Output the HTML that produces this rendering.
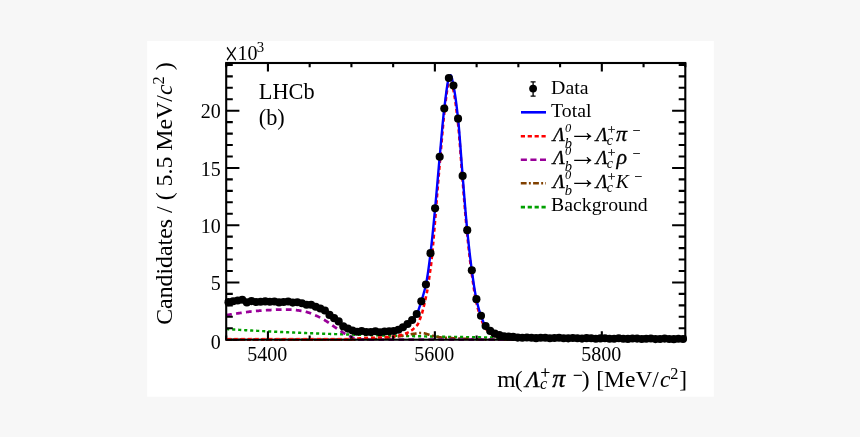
<!DOCTYPE html>
<html><head><meta charset="utf-8"><title>LHCb fit</title>
<style>html,body{margin:0;padding:0;background:#f7f7f7;}svg{display:block}</style></head>
<body>
<svg width="860" height="437" viewBox="0 0 860 437">
<rect x="0" y="0" width="860" height="437" fill="#f7f7f7"/>
<rect x="147.2" y="41" width="566.6" height="355.7" fill="#ffffff"/>
<g fill="none" stroke-linejoin="round">
<path d="M226.20,329.05 L226.70,329.08 L227.20,329.11 L227.70,329.15 L228.20,329.18 L228.70,329.21 L229.20,329.24 L229.70,329.27 L230.20,329.30 L230.70,329.33 L231.20,329.36 L231.70,329.39 L232.20,329.42 L232.70,329.45 L233.20,329.48 L233.70,329.51 L234.20,329.54 L234.70,329.57 L235.20,329.60 L235.70,329.63 L236.20,329.66 L236.70,329.69 L237.20,329.72 L237.70,329.75 L238.20,329.78 L238.70,329.81 L239.20,329.84 L239.70,329.87 L240.20,329.90 L240.70,329.93 L241.20,329.95 L241.70,329.98 L242.20,330.01 L242.70,330.04 L243.20,330.07 L243.70,330.10 L244.20,330.13 L244.70,330.15 L245.20,330.18 L245.70,330.21 L246.20,330.24 L246.70,330.27 L247.20,330.29 L247.70,330.32 L248.20,330.35 L248.70,330.38 L249.20,330.40 L249.70,330.43 L250.20,330.46 L250.70,330.49 L251.20,330.51 L251.70,330.54 L252.20,330.57 L252.70,330.59 L253.20,330.62 L253.70,330.65 L254.20,330.67 L254.70,330.70 L255.20,330.73 L255.70,330.75 L256.20,330.78 L256.70,330.81 L257.20,330.83 L257.70,330.86 L258.20,330.89 L258.70,330.91 L259.20,330.94 L259.70,330.96 L260.20,330.99 L260.70,331.01 L261.20,331.04 L261.70,331.07 L262.20,331.09 L262.70,331.12 L263.20,331.14 L263.70,331.17 L264.20,331.19 L264.70,331.22 L265.20,331.24 L265.70,331.27 L266.20,331.29 L266.70,331.32 L267.20,331.34 L267.70,331.37 L268.20,331.39 L268.70,331.42 L269.20,331.44 L269.70,331.46 L270.20,331.49 L270.70,331.51 L271.20,331.54 L271.70,331.56 L272.20,331.58 L272.70,331.61 L273.20,331.63 L273.70,331.66 L274.20,331.68 L274.70,331.70 L275.20,331.73 L275.70,331.75 L276.20,331.77 L276.70,331.80 L277.20,331.82 L277.70,331.84 L278.20,331.87 L278.70,331.89 L279.20,331.91 L279.70,331.94 L280.20,331.96 L280.70,331.98 L281.20,332.00 L281.70,332.03 L282.20,332.05 L282.70,332.07 L283.20,332.10 L283.70,332.12 L284.20,332.14 L284.70,332.16 L285.20,332.18 L285.70,332.21 L286.20,332.23 L286.70,332.25 L287.20,332.27 L287.70,332.29 L288.20,332.32 L288.70,332.34 L289.20,332.36 L289.70,332.38 L290.20,332.40 L290.70,332.42 L291.20,332.45 L291.70,332.47 L292.20,332.49 L292.70,332.51 L293.20,332.53 L293.70,332.55 L294.20,332.57 L294.70,332.59 L295.20,332.62 L295.70,332.64 L296.20,332.66 L296.70,332.68 L297.20,332.70 L297.70,332.72 L298.20,332.74 L298.70,332.76 L299.20,332.78 L299.70,332.80 L300.20,332.82 L300.70,332.84 L301.20,332.86 L301.70,332.88 L302.20,332.90 L302.70,332.92 L303.20,332.94 L303.70,332.96 L304.20,332.98 L304.70,333.00 L305.20,333.02 L305.70,333.04 L306.20,333.06 L306.70,333.08 L307.20,333.10 L307.70,333.12 L308.20,333.14 L308.70,333.16 L309.20,333.18 L309.70,333.20 L310.20,333.22 L310.70,333.24 L311.20,333.25 L311.70,333.27 L312.20,333.29 L312.70,333.31 L313.20,333.33 L313.70,333.35 L314.20,333.37 L314.70,333.39 L315.20,333.40 L315.70,333.42 L316.20,333.44 L316.70,333.46 L317.20,333.48 L317.70,333.50 L318.20,333.52 L318.70,333.53 L319.20,333.55 L319.70,333.57 L320.20,333.59 L320.70,333.61 L321.20,333.62 L321.70,333.64 L322.20,333.66 L322.70,333.68 L323.20,333.70 L323.70,333.71 L324.20,333.73 L324.70,333.75 L325.20,333.77 L325.70,333.78 L326.20,333.80 L326.70,333.82 L327.20,333.84 L327.70,333.85 L328.20,333.87 L328.70,333.89 L329.20,333.90 L329.70,333.92 L330.20,333.94 L330.70,333.96 L331.20,333.97 L331.70,333.99 L332.20,334.01 L332.70,334.02 L333.20,334.04 L333.70,334.06 L334.20,334.07 L334.70,334.09 L335.20,334.11 L335.70,334.12 L336.20,334.14 L336.70,334.16 L337.20,334.17 L337.70,334.19 L338.20,334.20 L338.70,334.22 L339.20,334.24 L339.70,334.25 L340.20,334.27 L340.70,334.29 L341.20,334.30 L341.70,334.32 L342.20,334.33 L342.70,334.35 L343.20,334.36 L343.70,334.38 L344.20,334.40 L344.70,334.41 L345.20,334.43 L345.70,334.44 L346.20,334.46 L346.70,334.47 L347.20,334.49 L347.70,334.50 L348.20,334.52 L348.70,334.53 L349.20,334.55 L349.70,334.57 L350.20,334.58 L350.70,334.60 L351.20,334.61 L351.70,334.63 L352.20,334.64 L352.70,334.66 L353.20,334.67 L353.70,334.69 L354.20,334.70 L354.70,334.71 L355.20,334.73 L355.70,334.74 L356.20,334.76 L356.70,334.77 L357.20,334.79 L357.70,334.80 L358.20,334.82 L358.70,334.83 L359.20,334.85 L359.70,334.86 L360.20,334.87 L360.70,334.89 L361.20,334.90 L361.70,334.92 L362.20,334.93 L362.70,334.94 L363.20,334.96 L363.70,334.97 L364.20,334.99 L364.70,335.00 L365.20,335.01 L365.70,335.03 L366.20,335.04 L366.70,335.06 L367.20,335.07 L367.70,335.08 L368.20,335.10 L368.70,335.11 L369.20,335.12 L369.70,335.14 L370.20,335.15 L370.70,335.16 L371.20,335.18 L371.70,335.19 L372.20,335.20 L372.70,335.22 L373.20,335.23 L373.70,335.24 L374.20,335.26 L374.70,335.27 L375.20,335.28 L375.70,335.30 L376.20,335.31 L376.70,335.32 L377.20,335.34 L377.70,335.35 L378.20,335.36 L378.70,335.37 L379.20,335.39 L379.70,335.40 L380.20,335.41 L380.70,335.42 L381.20,335.44 L381.70,335.45 L382.20,335.46 L382.70,335.47 L383.20,335.49 L383.70,335.50 L384.20,335.51 L384.70,335.52 L385.20,335.54 L385.70,335.55 L386.20,335.56 L386.70,335.57 L387.20,335.59 L387.70,335.60 L388.20,335.61 L388.70,335.62 L389.20,335.63 L389.70,335.65 L390.20,335.66 L390.70,335.67 L391.20,335.68 L391.70,335.69 L392.20,335.71 L392.70,335.72 L393.20,335.73 L393.70,335.74 L394.20,335.75 L394.70,335.76 L395.20,335.78 L395.70,335.79 L396.20,335.80 L396.70,335.81 L397.20,335.82 L397.70,335.83 L398.20,335.84 L398.70,335.86 L399.20,335.87 L399.70,335.88 L400.20,335.89 L400.70,335.90 L401.20,335.91 L401.70,335.92 L402.20,335.93 L402.70,335.95 L403.20,335.96 L403.70,335.97 L404.20,335.98 L404.70,335.99 L405.20,336.00 L405.70,336.01 L406.20,336.02 L406.70,336.03 L407.20,336.04 L407.70,336.05 L408.20,336.07 L408.70,336.08 L409.20,336.09 L409.70,336.10 L410.20,336.11 L410.70,336.12 L411.20,336.13 L411.70,336.14 L412.20,336.15 L412.70,336.16 L413.20,336.17 L413.70,336.18 L414.20,336.19 L414.70,336.20 L415.20,336.21 L415.70,336.22 L416.20,336.23 L416.70,336.24 L417.20,336.25 L417.70,336.26 L418.20,336.27 L418.70,336.28 L419.20,336.29 L419.70,336.30 L420.20,336.31 L420.70,336.32 L421.20,336.33 L421.70,336.34 L422.20,336.35 L422.70,336.36 L423.20,336.37 L423.70,336.38 L424.20,336.39 L424.70,336.40 L425.20,336.41 L425.70,336.42 L426.20,336.43 L426.70,336.44 L427.20,336.45 L427.70,336.46 L428.20,336.47 L428.70,336.48 L429.20,336.49 L429.70,336.50 L430.20,336.51 L430.70,336.52 L431.20,336.53 L431.70,336.54 L432.20,336.55 L432.70,336.56 L433.20,336.56 L433.70,336.57 L434.20,336.58 L434.70,336.59 L435.20,336.60 L435.70,336.61 L436.20,336.62 L436.70,336.63 L437.20,336.64 L437.70,336.65 L438.20,336.66 L438.70,336.66 L439.20,336.67 L439.70,336.68 L440.20,336.69 L440.70,336.70 L441.20,336.71 L441.70,336.72 L442.20,336.73 L442.70,336.74 L443.20,336.74 L443.70,336.75 L444.20,336.76 L444.70,336.77 L445.20,336.78 L445.70,336.79 L446.20,336.80 L446.70,336.80 L447.20,336.81 L447.70,336.82 L448.20,336.83 L448.70,336.84 L449.20,336.85 L449.70,336.86 L450.20,336.86 L450.70,336.87 L451.20,336.88 L451.70,336.89 L452.20,336.90 L452.70,336.91 L453.20,336.91 L453.70,336.92 L454.20,336.93 L454.70,336.94 L455.20,336.95 L455.70,336.95 L456.20,336.96 L456.70,336.97 L457.20,336.98 L457.70,336.99 L458.20,336.99 L458.70,337.00 L459.20,337.01 L459.70,337.02 L460.20,337.03 L460.70,337.03 L461.20,337.04 L461.70,337.05 L462.20,337.06 L462.70,337.07 L463.20,337.07 L463.70,337.08 L464.20,337.09 L464.70,337.10 L465.20,337.10 L465.70,337.11 L466.20,337.12 L466.70,337.13 L467.20,337.13 L467.70,337.14 L468.20,337.15 L468.70,337.16 L469.20,337.16 L469.70,337.17 L470.20,337.18 L470.70,337.19 L471.20,337.19 L471.70,337.20 L472.20,337.21 L472.70,337.22 L473.20,337.22 L473.70,337.23 L474.20,337.24 L474.70,337.25 L475.20,337.25 L475.70,337.26 L476.20,337.27 L476.70,337.27 L477.20,337.28 L477.70,337.29 L478.20,337.30 L478.70,337.30 L479.20,337.31 L479.70,337.32 L480.20,337.32 L480.70,337.33 L481.20,337.34 L481.70,337.35 L482.20,337.35 L482.70,337.36 L483.20,337.37 L483.70,337.37 L484.20,337.38 L484.70,337.39 L485.20,337.39 L485.70,337.40 L486.20,337.41 L486.70,337.41 L487.20,337.42 L487.70,337.43 L488.20,337.43 L488.70,337.44 L489.20,337.45 L489.70,337.45 L490.20,337.46 L490.70,337.47 L491.20,337.47 L491.70,337.48 L492.20,337.49 L492.70,337.49 L493.20,337.50 L493.70,337.51 L494.20,337.51 L494.70,337.52 L495.20,337.53 L495.70,337.53 L496.20,337.54 L496.70,337.54 L497.20,337.55 L497.70,337.56 L498.20,337.56 L498.70,337.57 L499.20,337.58 L499.70,337.58 L500.20,337.59 L500.70,337.60 L501.20,337.60 L501.70,337.61 L502.20,337.61 L502.70,337.62 L503.20,337.63 L503.70,337.63 L504.20,337.64 L504.70,337.64 L505.20,337.65 L505.70,337.66 L506.20,337.66 L506.70,337.67 L507.20,337.67 L507.70,337.68 L508.20,337.69 L508.70,337.69 L509.20,337.70 L509.70,337.70 L510.20,337.71 L510.70,337.72 L511.20,337.72 L511.70,337.73 L512.20,337.73 L512.70,337.74 L513.20,337.75 L513.70,337.75 L514.20,337.76 L514.70,337.76 L515.20,337.77 L515.70,337.77 L516.20,337.78 L516.70,337.79 L517.20,337.79 L517.70,337.80 L518.20,337.80 L518.70,337.81 L519.20,337.81 L519.70,337.82 L520.20,337.82 L520.70,337.83 L521.20,337.84 L521.70,337.84 L522.20,337.85 L522.70,337.85 L523.20,337.86 L523.70,337.86 L524.20,337.87 L524.70,337.87 L525.20,337.88 L525.70,337.88 L526.20,337.89 L526.70,337.89 L527.20,337.90 L527.70,337.91 L528.20,337.91 L528.70,337.92 L529.20,337.92 L529.70,337.93 L530.20,337.93 L530.70,337.94 L531.20,337.94 L531.70,337.95 L532.20,337.95 L532.70,337.96 L533.20,337.96 L533.70,337.97 L534.20,337.97 L534.70,337.98 L535.20,337.98 L535.70,337.99 L536.20,337.99 L536.70,338.00 L537.20,338.00 L537.70,338.01 L538.20,338.01 L538.70,338.02 L539.20,338.02 L539.70,338.03 L540.20,338.03 L540.70,338.04 L541.20,338.04 L541.70,338.05 L542.20,338.05 L542.70,338.06 L543.20,338.06 L543.70,338.07 L544.20,338.07 L544.70,338.08 L545.20,338.08 L545.70,338.09 L546.20,338.09 L546.70,338.10 L547.20,338.10 L547.70,338.11 L548.20,338.11 L548.70,338.11 L549.20,338.12 L549.70,338.12 L550.20,338.13 L550.70,338.13 L551.20,338.14 L551.70,338.14 L552.20,338.15 L552.70,338.15 L553.20,338.16 L553.70,338.16 L554.20,338.17 L554.70,338.17 L555.20,338.17 L555.70,338.18 L556.20,338.18 L556.70,338.19 L557.20,338.19 L557.70,338.20 L558.20,338.20 L558.70,338.21 L559.20,338.21 L559.70,338.21 L560.20,338.22 L560.70,338.22 L561.20,338.23 L561.70,338.23 L562.20,338.24 L562.70,338.24 L563.20,338.24 L563.70,338.25 L564.20,338.25 L564.70,338.26 L565.20,338.26 L565.70,338.27 L566.20,338.27 L566.70,338.27 L567.20,338.28 L567.70,338.28 L568.20,338.29 L568.70,338.29 L569.20,338.30 L569.70,338.30 L570.20,338.30 L570.70,338.31 L571.20,338.31 L571.70,338.32 L572.20,338.32 L572.70,338.32 L573.20,338.33 L573.70,338.33 L574.20,338.34 L574.70,338.34 L575.20,338.34 L575.70,338.35 L576.20,338.35 L576.70,338.36 L577.20,338.36 L577.70,338.36 L578.20,338.37 L578.70,338.37 L579.20,338.38 L579.70,338.38 L580.20,338.38 L580.70,338.39 L581.20,338.39 L581.70,338.40 L582.20,338.40 L582.70,338.40 L583.20,338.41 L583.70,338.41 L584.20,338.41 L584.70,338.42 L585.20,338.42 L585.70,338.43 L586.20,338.43 L586.70,338.43 L587.20,338.44 L587.70,338.44 L588.20,338.44 L588.70,338.45 L589.20,338.45 L589.70,338.46 L590.20,338.46 L590.70,338.46 L591.20,338.47 L591.70,338.47 L592.20,338.47 L592.70,338.48 L593.20,338.48 L593.70,338.48 L594.20,338.49 L594.70,338.49 L595.20,338.50 L595.70,338.50 L596.20,338.50 L596.70,338.51 L597.20,338.51 L597.70,338.51 L598.20,338.52 L598.70,338.52 L599.20,338.52 L599.70,338.53 L600.20,338.53 L600.70,338.53 L601.20,338.54 L601.70,338.54 L602.20,338.54 L602.70,338.55 L603.20,338.55 L603.70,338.55 L604.20,338.56 L604.70,338.56 L605.20,338.56 L605.70,338.57 L606.20,338.57 L606.70,338.57 L607.20,338.58 L607.70,338.58 L608.20,338.58 L608.70,338.59 L609.20,338.59 L609.70,338.59 L610.20,338.60 L610.70,338.60 L611.20,338.60 L611.70,338.61 L612.20,338.61 L612.70,338.61 L613.20,338.62 L613.70,338.62 L614.20,338.62 L614.70,338.63 L615.20,338.63 L615.70,338.63 L616.20,338.64 L616.70,338.64 L617.20,338.64 L617.70,338.65 L618.20,338.65 L618.70,338.65 L619.20,338.65 L619.70,338.66 L620.20,338.66 L620.70,338.66 L621.20,338.67 L621.70,338.67 L622.20,338.67 L622.70,338.68 L623.20,338.68 L623.70,338.68 L624.20,338.69 L624.70,338.69 L625.20,338.69 L625.70,338.69 L626.20,338.70 L626.70,338.70 L627.20,338.70 L627.70,338.71 L628.20,338.71 L628.70,338.71 L629.20,338.71 L629.70,338.72 L630.20,338.72 L630.70,338.72 L631.20,338.73 L631.70,338.73 L632.20,338.73 L632.70,338.73 L633.20,338.74 L633.70,338.74 L634.20,338.74 L634.70,338.75 L635.20,338.75 L635.70,338.75 L636.20,338.75 L636.70,338.76 L637.20,338.76 L637.70,338.76 L638.20,338.77 L638.70,338.77 L639.20,338.77 L639.70,338.77 L640.20,338.78 L640.70,338.78 L641.20,338.78 L641.70,338.78 L642.20,338.79 L642.70,338.79 L643.20,338.79 L643.70,338.80 L644.20,338.80 L644.70,338.80 L645.20,338.80 L645.70,338.81 L646.20,338.81 L646.70,338.81 L647.20,338.81 L647.70,338.82 L648.20,338.82 L648.70,338.82 L649.20,338.82 L649.70,338.83 L650.20,338.83 L650.70,338.83 L651.20,338.83 L651.70,338.84 L652.20,338.84 L652.70,338.84 L653.20,338.84 L653.70,338.85 L654.20,338.85 L654.70,338.85 L655.20,338.85 L655.70,338.86 L656.20,338.86 L656.70,338.86 L657.20,338.86 L657.70,338.87 L658.20,338.87 L658.70,338.87 L659.20,338.87 L659.70,338.88 L660.20,338.88 L660.70,338.88 L661.20,338.88 L661.70,338.89 L662.20,338.89 L662.70,338.89 L663.20,338.89 L663.70,338.90 L664.20,338.90 L664.70,338.90 L665.20,338.90 L665.70,338.91 L666.20,338.91 L666.70,338.91 L667.20,338.91 L667.70,338.92 L668.20,338.92 L668.70,338.92 L669.20,338.92 L669.70,338.92 L670.20,338.93 L670.70,338.93 L671.20,338.93 L671.70,338.93 L672.20,338.94 L672.70,338.94 L673.20,338.94 L673.70,338.94 L674.20,338.94 L674.70,338.95 L675.20,338.95 L675.70,338.95 L676.20,338.95 L676.70,338.96 L677.20,338.96 L677.70,338.96 L678.20,338.96 L678.70,338.96 L679.20,338.97 L679.70,338.97 L680.20,338.97 L680.70,338.97 L681.20,338.98 L681.70,338.98 L682.20,338.98 L682.70,338.98 L683.20,338.98 L683.70,338.99 L684.20,338.99 L684.70,338.99 L685.20,338.99" stroke="#00a000" stroke-width="2.4" stroke-dasharray="3.1 2.9"/>
<path d="M226.20,339.70 L226.70,339.70 L227.20,339.70 L227.70,339.70 L228.20,339.70 L228.70,339.70 L229.20,339.70 L229.70,339.70 L230.20,339.70 L230.70,339.70 L231.20,339.70 L231.70,339.70 L232.20,339.70 L232.70,339.70 L233.20,339.70 L233.70,339.70 L234.20,339.70 L234.70,339.70 L235.20,339.70 L235.70,339.70 L236.20,339.70 L236.70,339.70 L237.20,339.70 L237.70,339.70 L238.20,339.70 L238.70,339.70 L239.20,339.70 L239.70,339.70 L240.20,339.70 L240.70,339.70 L241.20,339.70 L241.70,339.70 L242.20,339.70 L242.70,339.70 L243.20,339.70 L243.70,339.70 L244.20,339.70 L244.70,339.70 L245.20,339.70 L245.70,339.70 L246.20,339.70 L246.70,339.70 L247.20,339.70 L247.70,339.70 L248.20,339.70 L248.70,339.70 L249.20,339.70 L249.70,339.70 L250.20,339.70 L250.70,339.70 L251.20,339.70 L251.70,339.70 L252.20,339.70 L252.70,339.70 L253.20,339.70 L253.70,339.70 L254.20,339.70 L254.70,339.70 L255.20,339.70 L255.70,339.70 L256.20,339.70 L256.70,339.70 L257.20,339.70 L257.70,339.70 L258.20,339.70 L258.70,339.70 L259.20,339.70 L259.70,339.70 L260.20,339.70 L260.70,339.70 L261.20,339.70 L261.70,339.70 L262.20,339.70 L262.70,339.70 L263.20,339.70 L263.70,339.70 L264.20,339.70 L264.70,339.70 L265.20,339.70 L265.70,339.70 L266.20,339.70 L266.70,339.70 L267.20,339.70 L267.70,339.70 L268.20,339.70 L268.70,339.70 L269.20,339.70 L269.70,339.70 L270.20,339.70 L270.70,339.70 L271.20,339.70 L271.70,339.70 L272.20,339.70 L272.70,339.70 L273.20,339.70 L273.70,339.70 L274.20,339.70 L274.70,339.70 L275.20,339.70 L275.70,339.70 L276.20,339.70 L276.70,339.70 L277.20,339.70 L277.70,339.70 L278.20,339.70 L278.70,339.70 L279.20,339.70 L279.70,339.70 L280.20,339.70 L280.70,339.70 L281.20,339.70 L281.70,339.70 L282.20,339.70 L282.70,339.70 L283.20,339.70 L283.70,339.70 L284.20,339.70 L284.70,339.70 L285.20,339.70 L285.70,339.70 L286.20,339.70 L286.70,339.70 L287.20,339.70 L287.70,339.70 L288.20,339.70 L288.70,339.70 L289.20,339.70 L289.70,339.70 L290.20,339.70 L290.70,339.70 L291.20,339.70 L291.70,339.70 L292.20,339.70 L292.70,339.70 L293.20,339.70 L293.70,339.70 L294.20,339.70 L294.70,339.70 L295.20,339.70 L295.70,339.70 L296.20,339.70 L296.70,339.70 L297.20,339.70 L297.70,339.70 L298.20,339.70 L298.70,339.70 L299.20,339.70 L299.70,339.70 L300.20,339.70 L300.70,339.70 L301.20,339.70 L301.70,339.70 L302.20,339.70 L302.70,339.70 L303.20,339.70 L303.70,339.70 L304.20,339.70 L304.70,339.70 L305.20,339.70 L305.70,339.70 L306.20,339.70 L306.70,339.70 L307.20,339.70 L307.70,339.70 L308.20,339.70 L308.70,339.70 L309.20,339.70 L309.70,339.70 L310.20,339.70 L310.70,339.70 L311.20,339.70 L311.70,339.70 L312.20,339.70 L312.70,339.70 L313.20,339.70 L313.70,339.70 L314.20,339.70 L314.70,339.70 L315.20,339.70 L315.70,339.70 L316.20,339.70 L316.70,339.70 L317.20,339.70 L317.70,339.70 L318.20,339.70 L318.70,339.70 L319.20,339.70 L319.70,339.70 L320.20,339.70 L320.70,339.70 L321.20,339.70 L321.70,339.70 L322.20,339.70 L322.70,339.70 L323.20,339.70 L323.70,339.70 L324.20,339.70 L324.70,339.70 L325.20,339.70 L325.70,339.70 L326.20,339.70 L326.70,339.70 L327.20,339.70 L327.70,339.70 L328.20,339.70 L328.70,339.70 L329.20,339.70 L329.70,339.70 L330.20,339.70 L330.70,339.70 L331.20,339.70 L331.70,339.70 L332.20,339.70 L332.70,339.70 L333.20,339.70 L333.70,339.70 L334.20,339.70 L334.70,339.70 L335.20,339.70 L335.70,339.70 L336.20,339.70 L336.70,339.70 L337.20,339.70 L337.70,339.70 L338.20,339.70 L338.70,339.70 L339.20,339.70 L339.70,339.70 L340.20,339.70 L340.70,339.70 L341.20,339.70 L341.70,339.70 L342.20,339.70 L342.70,339.70 L343.20,339.70 L343.70,339.70 L344.20,339.70 L344.70,339.70 L345.20,339.70 L345.70,339.70 L346.20,339.70 L346.70,339.70 L347.20,339.70 L347.70,339.70 L348.20,339.70 L348.70,339.70 L349.20,339.70 L349.70,339.70 L350.20,339.70 L350.70,339.70 L351.20,339.70 L351.70,339.70 L352.20,339.70 L352.70,339.70 L353.20,339.70 L353.70,339.70 L354.20,339.70 L354.70,339.70 L355.20,339.70 L355.70,339.70 L356.20,339.70 L356.70,339.70 L357.20,339.70 L357.70,339.70 L358.20,339.70 L358.70,339.70 L359.20,339.70 L359.70,339.70 L360.20,339.70 L360.70,339.70 L361.20,339.69 L361.70,339.69 L362.20,339.68 L362.70,339.66 L363.20,339.65 L363.70,339.63 L364.20,339.62 L364.70,339.60 L365.20,339.58 L365.70,339.55 L366.20,339.53 L366.70,339.50 L367.20,339.48 L367.70,339.45 L368.20,339.42 L368.70,339.39 L369.20,339.36 L369.70,339.33 L370.20,339.30 L370.70,339.27 L371.20,339.24 L371.70,339.21 L372.20,339.18 L372.70,339.15 L373.20,339.12 L373.70,339.09 L374.20,339.06 L374.70,339.03 L375.20,339.00 L375.70,338.97 L376.20,338.95 L376.70,338.92 L377.20,338.89 L377.70,338.86 L378.20,338.83 L378.70,338.80 L379.20,338.77 L379.70,338.74 L380.20,338.70 L380.70,338.67 L381.20,338.63 L381.70,338.60 L382.20,338.56 L382.70,338.52 L383.20,338.48 L383.70,338.44 L384.20,338.40 L384.70,338.35 L385.20,338.31 L385.70,338.26 L386.20,338.20 L386.70,338.14 L387.20,338.08 L387.70,338.01 L388.20,337.95 L388.70,337.87 L389.20,337.80 L389.70,337.73 L390.20,337.65 L390.70,337.57 L391.20,337.50 L391.70,337.42 L392.20,337.34 L392.70,337.27 L393.20,337.20 L393.70,337.12 L394.20,337.05 L394.70,336.97 L395.20,336.90 L395.70,336.82 L396.20,336.75 L396.70,336.67 L397.20,336.59 L397.70,336.52 L398.20,336.44 L398.70,336.36 L399.20,336.28 L399.70,336.20 L400.20,336.12 L400.70,336.04 L401.20,335.95 L401.70,335.87 L402.20,335.78 L402.70,335.70 L403.20,335.61 L403.70,335.52 L404.20,335.43 L404.70,335.35 L405.20,335.26 L405.70,335.17 L406.20,335.08 L406.70,335.00 L407.20,334.91 L407.70,334.83 L408.20,334.74 L408.70,334.66 L409.20,334.57 L409.70,334.49 L410.20,334.40 L410.70,334.32 L411.20,334.23 L411.70,334.15 L412.20,334.06 L412.70,333.98 L413.20,333.90 L413.70,333.82 L414.20,333.75 L414.70,333.67 L415.20,333.60 L415.70,333.52 L416.20,333.44 L416.70,333.36 L417.20,333.28 L417.70,333.20 L418.20,333.13 L418.70,333.07 L419.20,333.03 L419.70,333.01 L420.20,333.00 L420.70,333.01 L421.20,333.03 L421.70,333.07 L422.20,333.10 L422.70,333.15 L423.20,333.20 L423.70,333.25 L424.20,333.31 L424.70,333.40 L425.20,333.53 L425.70,333.67 L426.20,333.83 L426.70,334.00 L427.20,334.17 L427.70,334.34 L428.20,334.50 L428.70,334.66 L429.20,334.83 L429.70,335.00 L430.20,335.16 L430.70,335.32 L431.20,335.46 L431.70,335.60 L432.20,335.73 L432.70,335.86 L433.20,335.99 L433.70,336.11 L434.20,336.23 L434.70,336.34 L435.20,336.45 L435.70,336.55 L436.20,336.65 L436.70,336.74 L437.20,336.84 L437.70,336.93 L438.20,337.02 L438.70,337.10 L439.20,337.18 L439.70,337.25 L440.20,337.32 L440.70,337.38 L441.20,337.43 L441.70,337.48 L442.20,337.52 L442.70,337.57 L443.20,337.61 L443.70,337.65 L444.20,337.68 L444.70,337.72 L445.20,337.75 L445.70,337.78 L446.20,337.82 L446.70,337.85 L447.20,337.88 L447.70,337.91 L448.20,337.93 L448.70,337.96 L449.20,337.99 L449.70,338.02 L450.20,338.05 L450.70,338.08 L451.20,338.11 L451.70,338.14 L452.20,338.17 L452.70,338.20 L453.20,338.23 L453.70,338.26 L454.20,338.29 L454.70,338.31 L455.20,338.34 L455.70,338.37 L456.20,338.40 L456.70,338.43 L457.20,338.45 L457.70,338.48 L458.20,338.51 L458.70,338.54 L459.20,338.56 L459.70,338.59 L460.20,338.61 L460.70,338.64 L461.20,338.67 L461.70,338.69 L462.20,338.72 L462.70,338.74 L463.20,338.77 L463.70,338.79 L464.20,338.81 L464.70,338.84 L465.20,338.86 L465.70,338.88 L466.20,338.91 L466.70,338.93 L467.20,338.95 L467.70,338.98 L468.20,339.00 L468.70,339.02 L469.20,339.05 L469.70,339.07 L470.20,339.09 L470.70,339.11 L471.20,339.14 L471.70,339.16 L472.20,339.18 L472.70,339.20 L473.20,339.22 L473.70,339.24 L474.20,339.27 L474.70,339.29 L475.20,339.31 L475.70,339.32 L476.20,339.34 L476.70,339.36 L477.20,339.38 L477.70,339.40 L478.20,339.41 L478.70,339.43 L479.20,339.45 L479.70,339.46 L480.20,339.48 L480.70,339.49 L481.20,339.51 L481.70,339.52 L482.20,339.54 L482.70,339.55 L483.20,339.57 L483.70,339.58 L484.20,339.60 L484.70,339.61 L485.20,339.63 L485.70,339.64 L486.20,339.65 L486.70,339.66 L487.20,339.67 L487.70,339.68 L488.20,339.69 L488.70,339.69 L489.20,339.70 L489.70,339.70 L490.20,339.70 L490.70,339.70 L491.20,339.70 L491.70,339.70 L492.20,339.70 L492.70,339.70 L493.20,339.70 L493.70,339.70 L494.20,339.70 L494.70,339.70 L495.20,339.70 L495.70,339.70 L496.20,339.70 L496.70,339.70 L497.20,339.70 L497.70,339.70 L498.20,339.70 L498.70,339.70 L499.20,339.70 L499.70,339.70 L500.20,339.70 L500.70,339.70 L501.20,339.70 L501.70,339.70 L502.20,339.70 L502.70,339.70 L503.20,339.70 L503.70,339.70 L504.20,339.70 L504.70,339.70 L505.20,339.70 L505.70,339.70 L506.20,339.70 L506.70,339.70 L507.20,339.70 L507.70,339.70 L508.20,339.70 L508.70,339.70 L509.20,339.70 L509.70,339.70 L510.20,339.70 L510.70,339.70 L511.20,339.70 L511.70,339.70 L512.20,339.70 L512.70,339.70 L513.20,339.70 L513.70,339.70 L514.20,339.70 L514.70,339.70 L515.20,339.70 L515.70,339.70 L516.20,339.70 L516.70,339.70 L517.20,339.70 L517.70,339.70 L518.20,339.70 L518.70,339.70 L519.20,339.70 L519.70,339.70 L520.20,339.70 L520.70,339.70 L521.20,339.70 L521.70,339.70 L522.20,339.70 L522.70,339.70 L523.20,339.70 L523.70,339.70 L524.20,339.70 L524.70,339.70 L525.20,339.70 L525.70,339.70 L526.20,339.70 L526.70,339.70 L527.20,339.70 L527.70,339.70 L528.20,339.70 L528.70,339.70 L529.20,339.70 L529.70,339.70 L530.20,339.70 L530.70,339.70 L531.20,339.70 L531.70,339.70 L532.20,339.70 L532.70,339.70 L533.20,339.70 L533.70,339.70 L534.20,339.70 L534.70,339.70 L535.20,339.70 L535.70,339.70 L536.20,339.70 L536.70,339.70 L537.20,339.70 L537.70,339.70 L538.20,339.70 L538.70,339.70 L539.20,339.70 L539.70,339.70 L540.20,339.70 L540.70,339.70 L541.20,339.70 L541.70,339.70 L542.20,339.70 L542.70,339.70 L543.20,339.70 L543.70,339.70 L544.20,339.70 L544.70,339.70 L545.20,339.70 L545.70,339.70 L546.20,339.70 L546.70,339.70 L547.20,339.70 L547.70,339.70 L548.20,339.70 L548.70,339.70 L549.20,339.70 L549.70,339.70 L550.20,339.70 L550.70,339.70 L551.20,339.70 L551.70,339.70 L552.20,339.70 L552.70,339.70 L553.20,339.70 L553.70,339.70 L554.20,339.70 L554.70,339.70 L555.20,339.70 L555.70,339.70 L556.20,339.70 L556.70,339.70 L557.20,339.70 L557.70,339.70 L558.20,339.70 L558.70,339.70 L559.20,339.70 L559.70,339.70 L560.20,339.70 L560.70,339.70 L561.20,339.70 L561.70,339.70 L562.20,339.70 L562.70,339.70 L563.20,339.70 L563.70,339.70 L564.20,339.70 L564.70,339.70 L565.20,339.70 L565.70,339.70 L566.20,339.70 L566.70,339.70 L567.20,339.70 L567.70,339.70 L568.20,339.70 L568.70,339.70 L569.20,339.70 L569.70,339.70 L570.20,339.70 L570.70,339.70 L571.20,339.70 L571.70,339.70 L572.20,339.70 L572.70,339.70 L573.20,339.70 L573.70,339.70 L574.20,339.70 L574.70,339.70 L575.20,339.70 L575.70,339.70 L576.20,339.70 L576.70,339.70 L577.20,339.70 L577.70,339.70 L578.20,339.70 L578.70,339.70 L579.20,339.70 L579.70,339.70 L580.20,339.70 L580.70,339.70 L581.20,339.70 L581.70,339.70 L582.20,339.70 L582.70,339.70 L583.20,339.70 L583.70,339.70 L584.20,339.70 L584.70,339.70 L585.20,339.70 L585.70,339.70 L586.20,339.70 L586.70,339.70 L587.20,339.70 L587.70,339.70 L588.20,339.70 L588.70,339.70 L589.20,339.70 L589.70,339.70 L590.20,339.70 L590.70,339.70 L591.20,339.70 L591.70,339.70 L592.20,339.70 L592.70,339.70 L593.20,339.70 L593.70,339.70 L594.20,339.70 L594.70,339.70 L595.20,339.70 L595.70,339.70 L596.20,339.70 L596.70,339.70 L597.20,339.70 L597.70,339.70 L598.20,339.70 L598.70,339.70 L599.20,339.70 L599.70,339.70 L600.20,339.70 L600.70,339.70 L601.20,339.70 L601.70,339.70 L602.20,339.70 L602.70,339.70 L603.20,339.70 L603.70,339.70 L604.20,339.70 L604.70,339.70 L605.20,339.70 L605.70,339.70 L606.20,339.70 L606.70,339.70 L607.20,339.70 L607.70,339.70 L608.20,339.70 L608.70,339.70 L609.20,339.70 L609.70,339.70 L610.20,339.70 L610.70,339.70 L611.20,339.70 L611.70,339.70 L612.20,339.70 L612.70,339.70 L613.20,339.70 L613.70,339.70 L614.20,339.70 L614.70,339.70 L615.20,339.70 L615.70,339.70 L616.20,339.70 L616.70,339.70 L617.20,339.70 L617.70,339.70 L618.20,339.70 L618.70,339.70 L619.20,339.70 L619.70,339.70 L620.20,339.70 L620.70,339.70 L621.20,339.70 L621.70,339.70 L622.20,339.70 L622.70,339.70 L623.20,339.70 L623.70,339.70 L624.20,339.70 L624.70,339.70 L625.20,339.70 L625.70,339.70 L626.20,339.70 L626.70,339.70 L627.20,339.70 L627.70,339.70 L628.20,339.70 L628.70,339.70 L629.20,339.70 L629.70,339.70 L630.20,339.70 L630.70,339.70 L631.20,339.70 L631.70,339.70 L632.20,339.70 L632.70,339.70 L633.20,339.70 L633.70,339.70 L634.20,339.70 L634.70,339.70 L635.20,339.70 L635.70,339.70 L636.20,339.70 L636.70,339.70 L637.20,339.70 L637.70,339.70 L638.20,339.70 L638.70,339.70 L639.20,339.70 L639.70,339.70 L640.20,339.70 L640.70,339.70 L641.20,339.70 L641.70,339.70 L642.20,339.70 L642.70,339.70 L643.20,339.70 L643.70,339.70 L644.20,339.70 L644.70,339.70 L645.20,339.70 L645.70,339.70 L646.20,339.70 L646.70,339.70 L647.20,339.70 L647.70,339.70 L648.20,339.70 L648.70,339.70 L649.20,339.70 L649.70,339.70 L650.20,339.70 L650.70,339.70 L651.20,339.70 L651.70,339.70 L652.20,339.70 L652.70,339.70 L653.20,339.70 L653.70,339.70 L654.20,339.70 L654.70,339.70 L655.20,339.70 L655.70,339.70 L656.20,339.70 L656.70,339.70 L657.20,339.70 L657.70,339.70 L658.20,339.70 L658.70,339.70 L659.20,339.70 L659.70,339.70 L660.20,339.70 L660.70,339.70 L661.20,339.70 L661.70,339.70 L662.20,339.70 L662.70,339.70 L663.20,339.70 L663.70,339.70 L664.20,339.70 L664.70,339.70 L665.20,339.70 L665.70,339.70 L666.20,339.70 L666.70,339.70 L667.20,339.70 L667.70,339.70 L668.20,339.70 L668.70,339.70 L669.20,339.70 L669.70,339.70 L670.20,339.70 L670.70,339.70 L671.20,339.70 L671.70,339.70 L672.20,339.70 L672.70,339.70 L673.20,339.70 L673.70,339.70 L674.20,339.70 L674.70,339.70 L675.20,339.70 L675.70,339.70 L676.20,339.70 L676.70,339.70 L677.20,339.70 L677.70,339.70 L678.20,339.70 L678.70,339.70 L679.20,339.70 L679.70,339.70 L680.20,339.70 L680.70,339.70 L681.20,339.70 L681.70,339.70 L682.20,339.70 L682.70,339.70 L683.20,339.70 L683.70,339.70 L684.20,339.70 L684.70,339.70 L685.20,339.70" stroke="#804000" stroke-width="2.6" stroke-dasharray="6 2.6 2 2.6"/>
<path d="M226.20,315.16 L226.70,315.08 L227.20,315.00 L227.70,314.91 L228.20,314.83 L228.70,314.75 L229.20,314.67 L229.70,314.59 L230.20,314.51 L230.70,314.43 L231.20,314.35 L231.70,314.27 L232.20,314.19 L232.70,314.11 L233.20,314.03 L233.70,313.95 L234.20,313.88 L234.70,313.80 L235.20,313.73 L235.70,313.65 L236.20,313.57 L236.70,313.50 L237.20,313.43 L237.70,313.35 L238.20,313.28 L238.70,313.21 L239.20,313.14 L239.70,313.06 L240.20,312.99 L240.70,312.92 L241.20,312.85 L241.70,312.78 L242.20,312.71 L242.70,312.63 L243.20,312.56 L243.70,312.49 L244.20,312.42 L244.70,312.35 L245.20,312.27 L245.70,312.20 L246.20,312.13 L246.70,312.06 L247.20,311.99 L247.70,311.92 L248.20,311.86 L248.70,311.79 L249.20,311.72 L249.70,311.66 L250.20,311.60 L250.70,311.54 L251.20,311.48 L251.70,311.42 L252.20,311.36 L252.70,311.30 L253.20,311.25 L253.70,311.20 L254.20,311.15 L254.70,311.10 L255.20,311.06 L255.70,311.01 L256.20,310.97 L256.70,310.93 L257.20,310.88 L257.70,310.84 L258.20,310.80 L258.70,310.76 L259.20,310.72 L259.70,310.69 L260.20,310.65 L260.70,310.61 L261.20,310.57 L261.70,310.54 L262.20,310.50 L262.70,310.47 L263.20,310.44 L263.70,310.40 L264.20,310.37 L264.70,310.34 L265.20,310.31 L265.70,310.28 L266.20,310.25 L266.70,310.22 L267.20,310.19 L267.70,310.16 L268.20,310.14 L268.70,310.11 L269.20,310.08 L269.70,310.06 L270.20,310.03 L270.70,310.01 L271.20,309.98 L271.70,309.96 L272.20,309.93 L272.70,309.90 L273.20,309.88 L273.70,309.85 L274.20,309.83 L274.70,309.80 L275.20,309.78 L275.70,309.75 L276.20,309.73 L276.70,309.71 L277.20,309.69 L277.70,309.67 L278.20,309.65 L278.70,309.64 L279.20,309.62 L279.70,309.61 L280.20,309.60 L280.70,309.59 L281.20,309.59 L281.70,309.59 L282.20,309.59 L282.70,309.59 L283.20,309.59 L283.70,309.59 L284.20,309.60 L284.70,309.60 L285.20,309.61 L285.70,309.62 L286.20,309.62 L286.70,309.63 L287.20,309.64 L287.70,309.65 L288.20,309.66 L288.70,309.67 L289.20,309.68 L289.70,309.69 L290.20,309.71 L290.70,309.72 L291.20,309.74 L291.70,309.77 L292.20,309.80 L292.70,309.83 L293.20,309.87 L293.70,309.91 L294.20,309.95 L294.70,310.00 L295.20,310.05 L295.70,310.10 L296.20,310.16 L296.70,310.22 L297.20,310.28 L297.70,310.35 L298.20,310.42 L298.70,310.48 L299.20,310.55 L299.70,310.63 L300.20,310.70 L300.70,310.78 L301.20,310.85 L301.70,310.93 L302.20,311.01 L302.70,311.09 L303.20,311.18 L303.70,311.27 L304.20,311.38 L304.70,311.49 L305.20,311.62 L305.70,311.74 L306.20,311.88 L306.70,312.02 L307.20,312.16 L307.70,312.31 L308.20,312.46 L308.70,312.62 L309.20,312.77 L309.70,312.94 L310.20,313.12 L310.70,313.30 L311.20,313.49 L311.70,313.69 L312.20,313.89 L312.70,314.10 L313.20,314.32 L313.70,314.53 L314.20,314.75 L314.70,314.98 L315.20,315.20 L315.70,315.42 L316.20,315.65 L316.70,315.89 L317.20,316.12 L317.70,316.37 L318.20,316.61 L318.70,316.87 L319.20,317.12 L319.70,317.38 L320.20,317.64 L320.70,317.91 L321.20,318.18 L321.70,318.45 L322.20,318.73 L322.70,319.01 L323.20,319.30 L323.70,319.59 L324.20,319.89 L324.70,320.19 L325.20,320.49 L325.70,320.80 L326.20,321.11 L326.70,321.42 L327.20,321.74 L327.70,322.07 L328.20,322.40 L328.70,322.74 L329.20,323.08 L329.70,323.43 L330.20,323.79 L330.70,324.15 L331.20,324.51 L331.70,324.88 L332.20,325.24 L332.70,325.61 L333.20,325.97 L333.70,326.32 L334.20,326.67 L334.70,327.02 L335.20,327.38 L335.70,327.73 L336.20,328.08 L336.70,328.44 L337.20,328.79 L337.70,329.14 L338.20,329.48 L338.70,329.82 L339.20,330.16 L339.70,330.49 L340.20,330.82 L340.70,331.14 L341.20,331.46 L341.70,331.77 L342.20,332.09 L342.70,332.40 L343.20,332.70 L343.70,333.00 L344.20,333.30 L344.70,333.59 L345.20,333.88 L345.70,334.17 L346.20,334.44 L346.70,334.72 L347.20,334.98 L347.70,335.25 L348.20,335.51 L348.70,335.77 L349.20,336.03 L349.70,336.28 L350.20,336.53 L350.70,336.77 L351.20,337.01 L351.70,337.23 L352.20,337.46 L352.70,337.67 L353.20,337.88 L353.70,338.09 L354.20,338.31 L354.70,338.52 L355.20,338.72 L355.70,338.90 L356.20,339.06 L356.70,339.18 L357.20,339.28 L357.70,339.36 L358.20,339.44 L358.70,339.52 L359.20,339.58 L359.70,339.64 L360.20,339.67 L360.70,339.70 L361.20,339.70 L361.70,339.70 L362.20,339.70 L362.70,339.70 L363.20,339.70 L363.70,339.70 L364.20,339.70 L364.70,339.70 L365.20,339.70 L365.70,339.70 L366.20,339.70 L366.70,339.70 L367.20,339.70 L367.70,339.70 L368.20,339.70 L368.70,339.70 L369.20,339.70 L369.70,339.70 L370.20,339.70 L370.70,339.70 L371.20,339.70 L371.70,339.70 L372.20,339.70 L372.70,339.70 L373.20,339.70 L373.70,339.70 L374.20,339.70 L374.70,339.70 L375.20,339.70 L375.70,339.70 L376.20,339.70 L376.70,339.70 L377.20,339.70 L377.70,339.70 L378.20,339.70 L378.70,339.70 L379.20,339.70 L379.70,339.70 L380.20,339.70 L380.70,339.70 L381.20,339.70 L381.70,339.70 L382.20,339.70 L382.70,339.70 L383.20,339.70 L383.70,339.70 L384.20,339.70 L384.70,339.70 L385.20,339.70 L385.70,339.70 L386.20,339.70 L386.70,339.70 L387.20,339.70 L387.70,339.70 L388.20,339.70 L388.70,339.70 L389.20,339.70 L389.70,339.70 L390.20,339.70 L390.70,339.70 L391.20,339.70 L391.70,339.70 L392.20,339.70 L392.70,339.70 L393.20,339.70 L393.70,339.70 L394.20,339.70 L394.70,339.70 L395.20,339.70 L395.70,339.70 L396.20,339.70 L396.70,339.70 L397.20,339.70 L397.70,339.70 L398.20,339.70 L398.70,339.70 L399.20,339.70 L399.70,339.70 L400.20,339.70 L400.70,339.70 L401.20,339.70 L401.70,339.70 L402.20,339.70 L402.70,339.70 L403.20,339.70 L403.70,339.70 L404.20,339.70 L404.70,339.70 L405.20,339.70 L405.70,339.70 L406.20,339.70 L406.70,339.70 L407.20,339.70 L407.70,339.70 L408.20,339.70 L408.70,339.70 L409.20,339.70 L409.70,339.70 L410.20,339.70 L410.70,339.70 L411.20,339.70 L411.70,339.70 L412.20,339.70 L412.70,339.70 L413.20,339.70 L413.70,339.70 L414.20,339.70 L414.70,339.70 L415.20,339.70 L415.70,339.70 L416.20,339.70 L416.70,339.70 L417.20,339.70 L417.70,339.70 L418.20,339.70 L418.70,339.70 L419.20,339.70 L419.70,339.70 L420.20,339.70 L420.70,339.70 L421.20,339.70 L421.70,339.70 L422.20,339.70 L422.70,339.70 L423.20,339.70 L423.70,339.70 L424.20,339.70 L424.70,339.70 L425.20,339.70 L425.70,339.70 L426.20,339.70 L426.70,339.70 L427.20,339.70 L427.70,339.70 L428.20,339.70 L428.70,339.70 L429.20,339.70 L429.70,339.70 L430.20,339.70 L430.70,339.70 L431.20,339.70 L431.70,339.70 L432.20,339.70 L432.70,339.70 L433.20,339.70 L433.70,339.70 L434.20,339.70 L434.70,339.70 L435.20,339.70 L435.70,339.70 L436.20,339.70 L436.70,339.70 L437.20,339.70 L437.70,339.70 L438.20,339.70 L438.70,339.70 L439.20,339.70 L439.70,339.70 L440.20,339.70 L440.70,339.70 L441.20,339.70 L441.70,339.70 L442.20,339.70 L442.70,339.70 L443.20,339.70 L443.70,339.70 L444.20,339.70 L444.70,339.70 L445.20,339.70 L445.70,339.70 L446.20,339.70 L446.70,339.70 L447.20,339.70 L447.70,339.70 L448.20,339.70 L448.70,339.70 L449.20,339.70 L449.70,339.70 L450.20,339.70 L450.70,339.70 L451.20,339.70 L451.70,339.70 L452.20,339.70 L452.70,339.70 L453.20,339.70 L453.70,339.70 L454.20,339.70 L454.70,339.70 L455.20,339.70 L455.70,339.70 L456.20,339.70 L456.70,339.70 L457.20,339.70 L457.70,339.70 L458.20,339.70 L458.70,339.70 L459.20,339.70 L459.70,339.70 L460.20,339.70 L460.70,339.70 L461.20,339.70 L461.70,339.70 L462.20,339.70 L462.70,339.70 L463.20,339.70 L463.70,339.70 L464.20,339.70 L464.70,339.70 L465.20,339.70 L465.70,339.70 L466.20,339.70 L466.70,339.70 L467.20,339.70 L467.70,339.70 L468.20,339.70 L468.70,339.70 L469.20,339.70 L469.70,339.70 L470.20,339.70 L470.70,339.70 L471.20,339.70 L471.70,339.70 L472.20,339.70 L472.70,339.70 L473.20,339.70 L473.70,339.70 L474.20,339.70 L474.70,339.70 L475.20,339.70 L475.70,339.70 L476.20,339.70 L476.70,339.70 L477.20,339.70 L477.70,339.70 L478.20,339.70 L478.70,339.70 L479.20,339.70 L479.70,339.70 L480.20,339.70 L480.70,339.70 L481.20,339.70 L481.70,339.70 L482.20,339.70 L482.70,339.70 L483.20,339.70 L483.70,339.70 L484.20,339.70 L484.70,339.70 L485.20,339.70 L485.70,339.70 L486.20,339.70 L486.70,339.70 L487.20,339.70 L487.70,339.70 L488.20,339.70 L488.70,339.70 L489.20,339.70 L489.70,339.70 L490.20,339.70 L490.70,339.70 L491.20,339.70 L491.70,339.70 L492.20,339.70 L492.70,339.70 L493.20,339.70 L493.70,339.70 L494.20,339.70 L494.70,339.70 L495.20,339.70 L495.70,339.70 L496.20,339.70 L496.70,339.70 L497.20,339.70 L497.70,339.70 L498.20,339.70 L498.70,339.70 L499.20,339.70 L499.70,339.70 L500.20,339.70 L500.70,339.70 L501.20,339.70 L501.70,339.70 L502.20,339.70 L502.70,339.70 L503.20,339.70 L503.70,339.70 L504.20,339.70 L504.70,339.70 L505.20,339.70 L505.70,339.70 L506.20,339.70 L506.70,339.70 L507.20,339.70 L507.70,339.70 L508.20,339.70 L508.70,339.70 L509.20,339.70 L509.70,339.70 L510.20,339.70 L510.70,339.70 L511.20,339.70 L511.70,339.70 L512.20,339.70 L512.70,339.70 L513.20,339.70 L513.70,339.70 L514.20,339.70 L514.70,339.70 L515.20,339.70 L515.70,339.70 L516.20,339.70 L516.70,339.70 L517.20,339.70 L517.70,339.70 L518.20,339.70 L518.70,339.70 L519.20,339.70 L519.70,339.70 L520.20,339.70 L520.70,339.70 L521.20,339.70 L521.70,339.70 L522.20,339.70 L522.70,339.70 L523.20,339.70 L523.70,339.70 L524.20,339.70 L524.70,339.70 L525.20,339.70 L525.70,339.70 L526.20,339.70 L526.70,339.70 L527.20,339.70 L527.70,339.70 L528.20,339.70 L528.70,339.70 L529.20,339.70 L529.70,339.70 L530.20,339.70 L530.70,339.70 L531.20,339.70 L531.70,339.70 L532.20,339.70 L532.70,339.70 L533.20,339.70 L533.70,339.70 L534.20,339.70 L534.70,339.70 L535.20,339.70 L535.70,339.70 L536.20,339.70 L536.70,339.70 L537.20,339.70 L537.70,339.70 L538.20,339.70 L538.70,339.70 L539.20,339.70 L539.70,339.70 L540.20,339.70 L540.70,339.70 L541.20,339.70 L541.70,339.70 L542.20,339.70 L542.70,339.70 L543.20,339.70 L543.70,339.70 L544.20,339.70 L544.70,339.70 L545.20,339.70 L545.70,339.70 L546.20,339.70 L546.70,339.70 L547.20,339.70 L547.70,339.70 L548.20,339.70 L548.70,339.70 L549.20,339.70 L549.70,339.70 L550.20,339.70 L550.70,339.70 L551.20,339.70 L551.70,339.70 L552.20,339.70 L552.70,339.70 L553.20,339.70 L553.70,339.70 L554.20,339.70 L554.70,339.70 L555.20,339.70 L555.70,339.70 L556.20,339.70 L556.70,339.70 L557.20,339.70 L557.70,339.70 L558.20,339.70 L558.70,339.70 L559.20,339.70 L559.70,339.70 L560.20,339.70 L560.70,339.70 L561.20,339.70 L561.70,339.70 L562.20,339.70 L562.70,339.70 L563.20,339.70 L563.70,339.70 L564.20,339.70 L564.70,339.70 L565.20,339.70 L565.70,339.70 L566.20,339.70 L566.70,339.70 L567.20,339.70 L567.70,339.70 L568.20,339.70 L568.70,339.70 L569.20,339.70 L569.70,339.70 L570.20,339.70 L570.70,339.70 L571.20,339.70 L571.70,339.70 L572.20,339.70 L572.70,339.70 L573.20,339.70 L573.70,339.70 L574.20,339.70 L574.70,339.70 L575.20,339.70 L575.70,339.70 L576.20,339.70 L576.70,339.70 L577.20,339.70 L577.70,339.70 L578.20,339.70 L578.70,339.70 L579.20,339.70 L579.70,339.70 L580.20,339.70 L580.70,339.70 L581.20,339.70 L581.70,339.70 L582.20,339.70 L582.70,339.70 L583.20,339.70 L583.70,339.70 L584.20,339.70 L584.70,339.70 L585.20,339.70 L585.70,339.70 L586.20,339.70 L586.70,339.70 L587.20,339.70 L587.70,339.70 L588.20,339.70 L588.70,339.70 L589.20,339.70 L589.70,339.70 L590.20,339.70 L590.70,339.70 L591.20,339.70 L591.70,339.70 L592.20,339.70 L592.70,339.70 L593.20,339.70 L593.70,339.70 L594.20,339.70 L594.70,339.70 L595.20,339.70 L595.70,339.70 L596.20,339.70 L596.70,339.70 L597.20,339.70 L597.70,339.70 L598.20,339.70 L598.70,339.70 L599.20,339.70 L599.70,339.70 L600.20,339.70 L600.70,339.70 L601.20,339.70 L601.70,339.70 L602.20,339.70 L602.70,339.70 L603.20,339.70 L603.70,339.70 L604.20,339.70 L604.70,339.70 L605.20,339.70 L605.70,339.70 L606.20,339.70 L606.70,339.70 L607.20,339.70 L607.70,339.70 L608.20,339.70 L608.70,339.70 L609.20,339.70 L609.70,339.70 L610.20,339.70 L610.70,339.70 L611.20,339.70 L611.70,339.70 L612.20,339.70 L612.70,339.70 L613.20,339.70 L613.70,339.70 L614.20,339.70 L614.70,339.70 L615.20,339.70 L615.70,339.70 L616.20,339.70 L616.70,339.70 L617.20,339.70 L617.70,339.70 L618.20,339.70 L618.70,339.70 L619.20,339.70 L619.70,339.70 L620.20,339.70 L620.70,339.70 L621.20,339.70 L621.70,339.70 L622.20,339.70 L622.70,339.70 L623.20,339.70 L623.70,339.70 L624.20,339.70 L624.70,339.70 L625.20,339.70 L625.70,339.70 L626.20,339.70 L626.70,339.70 L627.20,339.70 L627.70,339.70 L628.20,339.70 L628.70,339.70 L629.20,339.70 L629.70,339.70 L630.20,339.70 L630.70,339.70 L631.20,339.70 L631.70,339.70 L632.20,339.70 L632.70,339.70 L633.20,339.70 L633.70,339.70 L634.20,339.70 L634.70,339.70 L635.20,339.70 L635.70,339.70 L636.20,339.70 L636.70,339.70 L637.20,339.70 L637.70,339.70 L638.20,339.70 L638.70,339.70 L639.20,339.70 L639.70,339.70 L640.20,339.70 L640.70,339.70 L641.20,339.70 L641.70,339.70 L642.20,339.70 L642.70,339.70 L643.20,339.70 L643.70,339.70 L644.20,339.70 L644.70,339.70 L645.20,339.70 L645.70,339.70 L646.20,339.70 L646.70,339.70 L647.20,339.70 L647.70,339.70 L648.20,339.70 L648.70,339.70 L649.20,339.70 L649.70,339.70 L650.20,339.70 L650.70,339.70 L651.20,339.70 L651.70,339.70 L652.20,339.70 L652.70,339.70 L653.20,339.70 L653.70,339.70 L654.20,339.70 L654.70,339.70 L655.20,339.70 L655.70,339.70 L656.20,339.70 L656.70,339.70 L657.20,339.70 L657.70,339.70 L658.20,339.70 L658.70,339.70 L659.20,339.70 L659.70,339.70 L660.20,339.70 L660.70,339.70 L661.20,339.70 L661.70,339.70 L662.20,339.70 L662.70,339.70 L663.20,339.70 L663.70,339.70 L664.20,339.70 L664.70,339.70 L665.20,339.70 L665.70,339.70 L666.20,339.70 L666.70,339.70 L667.20,339.70 L667.70,339.70 L668.20,339.70 L668.70,339.70 L669.20,339.70 L669.70,339.70 L670.20,339.70 L670.70,339.70 L671.20,339.70 L671.70,339.70 L672.20,339.70 L672.70,339.70 L673.20,339.70 L673.70,339.70 L674.20,339.70 L674.70,339.70 L675.20,339.70 L675.70,339.70 L676.20,339.70 L676.70,339.70 L677.20,339.70 L677.70,339.70 L678.20,339.70 L678.70,339.70 L679.20,339.70 L679.70,339.70 L680.20,339.70 L680.70,339.70 L681.20,339.70 L681.70,339.70 L682.20,339.70 L682.70,339.70 L683.20,339.70 L683.70,339.70 L684.20,339.70 L684.70,339.70 L685.20,339.70" stroke="#990099" stroke-width="2.75" stroke-dasharray="5.7 4.3"/>
<path d="M226.20,339.70 L226.70,339.70 L227.20,339.70 L227.70,339.70 L228.20,339.70 L228.70,339.70 L229.20,339.70 L229.70,339.70 L230.20,339.70 L230.70,339.70 L231.20,339.70 L231.70,339.70 L232.20,339.70 L232.70,339.70 L233.20,339.70 L233.70,339.70 L234.20,339.70 L234.70,339.70 L235.20,339.70 L235.70,339.70 L236.20,339.70 L236.70,339.70 L237.20,339.70 L237.70,339.70 L238.20,339.70 L238.70,339.70 L239.20,339.70 L239.70,339.70 L240.20,339.70 L240.70,339.70 L241.20,339.70 L241.70,339.70 L242.20,339.70 L242.70,339.70 L243.20,339.70 L243.70,339.70 L244.20,339.70 L244.70,339.70 L245.20,339.70 L245.70,339.70 L246.20,339.70 L246.70,339.70 L247.20,339.70 L247.70,339.70 L248.20,339.70 L248.70,339.70 L249.20,339.70 L249.70,339.70 L250.20,339.70 L250.70,339.70 L251.20,339.70 L251.70,339.70 L252.20,339.70 L252.70,339.70 L253.20,339.70 L253.70,339.70 L254.20,339.70 L254.70,339.70 L255.20,339.70 L255.70,339.70 L256.20,339.70 L256.70,339.70 L257.20,339.70 L257.70,339.70 L258.20,339.70 L258.70,339.70 L259.20,339.70 L259.70,339.70 L260.20,339.70 L260.70,339.70 L261.20,339.70 L261.70,339.70 L262.20,339.70 L262.70,339.70 L263.20,339.70 L263.70,339.70 L264.20,339.70 L264.70,339.70 L265.20,339.70 L265.70,339.70 L266.20,339.70 L266.70,339.70 L267.20,339.70 L267.70,339.70 L268.20,339.70 L268.70,339.70 L269.20,339.70 L269.70,339.70 L270.20,339.70 L270.70,339.70 L271.20,339.70 L271.70,339.70 L272.20,339.70 L272.70,339.70 L273.20,339.70 L273.70,339.70 L274.20,339.70 L274.70,339.70 L275.20,339.70 L275.70,339.70 L276.20,339.70 L276.70,339.70 L277.20,339.70 L277.70,339.70 L278.20,339.70 L278.70,339.70 L279.20,339.70 L279.70,339.70 L280.20,339.70 L280.70,339.70 L281.20,339.70 L281.70,339.70 L282.20,339.70 L282.70,339.70 L283.20,339.70 L283.70,339.70 L284.20,339.70 L284.70,339.70 L285.20,339.70 L285.70,339.70 L286.20,339.70 L286.70,339.70 L287.20,339.70 L287.70,339.70 L288.20,339.70 L288.70,339.70 L289.20,339.70 L289.70,339.70 L290.20,339.70 L290.70,339.70 L291.20,339.70 L291.70,339.70 L292.20,339.70 L292.70,339.70 L293.20,339.70 L293.70,339.70 L294.20,339.70 L294.70,339.70 L295.20,339.70 L295.70,339.70 L296.20,339.70 L296.70,339.70 L297.20,339.70 L297.70,339.70 L298.20,339.70 L298.70,339.70 L299.20,339.70 L299.70,339.70 L300.20,339.70 L300.70,339.70 L301.20,339.70 L301.70,339.70 L302.20,339.70 L302.70,339.70 L303.20,339.70 L303.70,339.70 L304.20,339.70 L304.70,339.70 L305.20,339.70 L305.70,339.70 L306.20,339.70 L306.70,339.70 L307.20,339.70 L307.70,339.70 L308.20,339.70 L308.70,339.70 L309.20,339.70 L309.70,339.70 L310.20,339.70 L310.70,339.70 L311.20,339.70 L311.70,339.70 L312.20,339.70 L312.70,339.70 L313.20,339.70 L313.70,339.70 L314.20,339.70 L314.70,339.70 L315.20,339.70 L315.70,339.70 L316.20,339.70 L316.70,339.70 L317.20,339.70 L317.70,339.70 L318.20,339.70 L318.70,339.70 L319.20,339.70 L319.70,339.70 L320.20,339.70 L320.70,339.70 L321.20,339.70 L321.70,339.70 L322.20,339.70 L322.70,339.70 L323.20,339.70 L323.70,339.70 L324.20,339.70 L324.70,339.70 L325.20,339.70 L325.70,339.70 L326.20,339.70 L326.70,339.70 L327.20,339.70 L327.70,339.70 L328.20,339.70 L328.70,339.70 L329.20,339.70 L329.70,339.70 L330.20,339.70 L330.70,339.70 L331.20,339.70 L331.70,339.70 L332.20,339.70 L332.70,339.70 L333.20,339.70 L333.70,339.70 L334.20,339.70 L334.70,339.70 L335.20,339.70 L335.70,339.70 L336.20,339.70 L336.70,339.70 L337.20,339.70 L337.70,339.70 L338.20,339.70 L338.70,339.70 L339.20,339.70 L339.70,339.70 L340.20,339.70 L340.70,339.70 L341.20,339.70 L341.70,339.70 L342.20,339.70 L342.70,339.70 L343.20,339.70 L343.70,339.70 L344.20,339.70 L344.70,339.70 L345.20,339.70 L345.70,339.70 L346.20,339.70 L346.70,339.70 L347.20,339.70 L347.70,339.70 L348.20,339.70 L348.70,339.70 L349.20,339.70 L349.70,339.70 L350.20,339.70 L350.70,339.68 L351.20,339.65 L351.70,339.59 L352.20,339.53 L352.70,339.45 L353.20,339.37 L353.70,339.28 L354.20,339.18 L354.70,339.09 L355.20,338.99 L355.70,338.90 L356.20,338.81 L356.70,338.72 L357.20,338.65 L357.70,338.59 L358.20,338.54 L358.70,338.49 L359.20,338.44 L359.70,338.40 L360.20,338.36 L360.70,338.32 L361.20,338.28 L361.70,338.24 L362.20,338.20 L362.70,338.17 L363.20,338.14 L363.70,338.10 L364.20,338.07 L364.70,338.05 L365.20,338.02 L365.70,338.00 L366.20,337.97 L366.70,337.95 L367.20,337.93 L367.70,337.92 L368.20,337.90 L368.70,337.88 L369.20,337.87 L369.70,337.85 L370.20,337.84 L370.70,337.83 L371.20,337.81 L371.70,337.80 L372.20,337.79 L372.70,337.78 L373.20,337.76 L373.70,337.75 L374.20,337.73 L374.70,337.72 L375.20,337.70 L375.70,337.69 L376.20,337.67 L376.70,337.65 L377.20,337.63 L377.70,337.61 L378.20,337.59 L378.70,337.57 L379.20,337.54 L379.70,337.52 L380.20,337.50 L380.70,337.47 L381.20,337.45 L381.70,337.42 L382.20,337.39 L382.70,337.37 L383.20,337.34 L383.70,337.31 L384.20,337.28 L384.70,337.25 L385.20,337.21 L385.70,337.18 L386.20,337.14 L386.70,337.11 L387.20,337.07 L387.70,337.03 L388.20,336.99 L388.70,336.95 L389.20,336.91 L389.70,336.86 L390.20,336.82 L390.70,336.77 L391.20,336.72 L391.70,336.66 L392.20,336.60 L392.70,336.53 L393.20,336.47 L393.70,336.40 L394.20,336.32 L394.70,336.24 L395.20,336.16 L395.70,336.08 L396.20,335.99 L396.70,335.90 L397.20,335.80 L397.70,335.70 L398.20,335.60 L398.70,335.50 L399.20,335.39 L399.70,335.28 L400.20,335.17 L400.70,335.06 L401.20,334.94 L401.70,334.82 L402.20,334.68 L402.70,334.54 L403.20,334.38 L403.70,334.22 L404.20,334.04 L404.70,333.86 L405.20,333.67 L405.70,333.47 L406.20,333.26 L406.70,333.05 L407.20,332.83 L407.70,332.60 L408.20,332.35 L408.70,332.09 L409.20,331.82 L409.70,331.52 L410.20,331.22 L410.70,330.91 L411.20,330.58 L411.70,330.24 L412.20,329.87 L412.70,329.47 L413.20,329.05 L413.70,328.61 L414.20,328.14 L414.70,327.66 L415.20,327.17 L415.70,326.66 L416.20,326.16 L416.70,325.68 L417.20,325.18 L417.70,324.47 L418.20,323.47 L418.70,322.28 L419.20,320.99 L419.70,319.69 L420.20,318.42 L420.70,317.12 L421.20,315.74 L421.70,314.25 L422.20,312.60 L422.70,310.78 L423.20,308.84 L423.70,306.81 L424.20,304.66 L424.70,302.44 L425.20,300.20 L425.70,298.00 L426.20,295.79 L426.70,293.46 L427.20,290.90 L427.70,288.07 L428.20,285.00 L428.70,281.62 L429.20,277.83 L429.70,274.09 L430.20,270.80 L430.70,267.53 L431.20,263.60 L431.70,258.73 L432.20,253.69 L432.70,248.54 L433.20,243.13 L433.70,237.42 L434.20,231.50 L434.70,225.38 L435.20,219.17 L435.70,212.89 L436.20,206.47 L436.70,199.88 L437.20,193.61 L437.70,187.73 L438.20,181.82 L438.70,175.83 L439.20,169.90 L439.70,164.04 L440.20,158.24 L440.70,152.51 L441.20,146.73 L441.70,140.87 L442.20,135.10 L442.70,129.40 L443.20,123.95 L443.70,118.74 L444.20,113.96 L444.70,109.61 L445.20,105.35 L445.70,101.11 L446.20,97.02 L446.70,93.05 L447.20,89.46 L447.70,86.19 L448.20,83.60 L448.70,81.54 L449.20,80.04 L449.70,78.84 L450.20,78.46 L450.70,78.37 L451.20,78.54 L451.70,80.19 L452.20,82.51 L452.70,85.95 L453.20,89.01 L453.70,91.51 L454.20,94.21 L454.70,97.18 L455.20,100.42 L455.70,103.96 L456.20,107.73 L456.70,111.74 L457.20,115.94 L457.70,120.30 L458.20,125.03 L458.70,130.18 L459.20,135.84 L459.70,142.12 L460.20,148.64 L460.70,155.38 L461.20,162.10 L461.70,168.78 L462.20,175.25 L462.70,181.48 L463.20,187.68 L463.70,193.88 L464.20,200.03 L464.70,206.15 L465.20,212.12 L465.70,217.96 L466.20,223.59 L466.70,229.01 L467.20,234.20 L467.70,239.17 L468.20,243.96 L468.70,248.59 L469.20,253.05 L469.70,257.37 L470.20,261.54 L470.70,265.57 L471.20,269.46 L471.70,273.22 L472.20,276.88 L472.70,280.46 L473.20,283.92 L473.70,287.26 L474.20,290.44 L474.70,293.47 L475.20,296.30 L475.70,298.95 L476.20,301.40 L476.70,303.69 L477.20,305.82 L477.70,307.83 L478.20,309.71 L478.70,311.49 L479.20,313.17 L479.70,314.77 L480.20,316.29 L480.70,317.73 L481.20,319.11 L481.70,320.45 L482.20,321.72 L482.70,322.95 L483.20,324.10 L483.70,325.17 L484.20,326.15 L484.70,327.06 L485.20,327.88 L485.70,328.61 L486.20,329.28 L486.70,329.89 L487.20,330.46 L487.70,330.99 L488.20,331.48 L488.70,331.94 L489.20,332.38 L489.70,332.78 L490.20,333.17 L490.70,333.54 L491.20,333.88 L491.70,334.21 L492.20,334.52 L492.70,334.81 L493.20,335.08 L493.70,335.34 L494.20,335.57 L494.70,335.79 L495.20,336.00 L495.70,336.20 L496.20,336.38 L496.70,336.55 L497.20,336.72 L497.70,336.87 L498.20,337.01 L498.70,337.14 L499.20,337.26 L499.70,337.36 L500.20,337.45 L500.70,337.54 L501.20,337.62 L501.70,337.69 L502.20,337.76 L502.70,337.83 L503.20,337.89 L503.70,337.96 L504.20,338.02 L504.70,338.08 L505.20,338.14 L505.70,338.20 L506.20,338.27 L506.70,338.33 L507.20,338.40 L507.70,338.48 L508.20,338.55 L508.70,338.62 L509.20,338.69 L509.70,338.76 L510.20,338.83 L510.70,338.90 L511.20,338.96 L511.70,339.02 L512.20,339.07 L512.70,339.12 L513.20,339.17 L513.70,339.21 L514.20,339.25 L514.70,339.28 L515.20,339.30 L515.70,339.32 L516.20,339.34 L516.70,339.35 L517.20,339.36 L517.70,339.38 L518.20,339.39 L518.70,339.40 L519.20,339.41 L519.70,339.42 L520.20,339.43 L520.70,339.44 L521.20,339.45 L521.70,339.46 L522.20,339.46 L522.70,339.47 L523.20,339.48 L523.70,339.48 L524.20,339.49 L524.70,339.49 L525.20,339.50 L525.70,339.50 L526.20,339.51 L526.70,339.51 L527.20,339.52 L527.70,339.52 L528.20,339.52 L528.70,339.53 L529.20,339.53 L529.70,339.53 L530.20,339.54 L530.70,339.54 L531.20,339.54 L531.70,339.54 L532.20,339.54 L532.70,339.55 L533.20,339.55 L533.70,339.55 L534.20,339.55 L534.70,339.55 L535.20,339.55 L535.70,339.56 L536.20,339.56 L536.70,339.56 L537.20,339.56 L537.70,339.56 L538.20,339.56 L538.70,339.56 L539.20,339.57 L539.70,339.57 L540.20,339.57 L540.70,339.57 L541.20,339.57 L541.70,339.57 L542.20,339.57 L542.70,339.58 L543.20,339.58 L543.70,339.58 L544.20,339.58 L544.70,339.58 L545.20,339.58 L545.70,339.58 L546.20,339.58 L546.70,339.58 L547.20,339.58 L547.70,339.58 L548.20,339.58 L548.70,339.58 L549.20,339.58 L549.70,339.58 L550.20,339.58 L550.70,339.58 L551.20,339.58 L551.70,339.58 L552.20,339.58 L552.70,339.58 L553.20,339.58 L553.70,339.58 L554.20,339.58 L554.70,339.58 L555.20,339.58 L555.70,339.58 L556.20,339.58 L556.70,339.58 L557.20,339.58 L557.70,339.58 L558.20,339.58 L558.70,339.58 L559.20,339.58 L559.70,339.58 L560.20,339.58 L560.70,339.58 L561.20,339.58 L561.70,339.58 L562.20,339.58 L562.70,339.59 L563.20,339.59 L563.70,339.59 L564.20,339.59 L564.70,339.59 L565.20,339.59 L565.70,339.59 L566.20,339.59 L566.70,339.59 L567.20,339.59 L567.70,339.59 L568.20,339.59 L568.70,339.59 L569.20,339.59 L569.70,339.59 L570.20,339.59 L570.70,339.59 L571.20,339.59 L571.70,339.59 L572.20,339.59 L572.70,339.59 L573.20,339.59 L573.70,339.60 L574.20,339.60 L574.70,339.60 L575.20,339.60 L575.70,339.60 L576.20,339.60 L576.70,339.60 L577.20,339.60 L577.70,339.60 L578.20,339.60 L578.70,339.60 L579.20,339.60 L579.70,339.60 L580.20,339.60 L580.70,339.60 L581.20,339.60 L581.70,339.60 L582.20,339.60 L582.70,339.60 L583.20,339.60 L583.70,339.60 L584.20,339.60 L584.70,339.61 L585.20,339.61 L585.70,339.61 L586.20,339.61 L586.70,339.61 L587.20,339.61 L587.70,339.61 L588.20,339.61 L588.70,339.61 L589.20,339.61 L589.70,339.61 L590.20,339.61 L590.70,339.61 L591.20,339.61 L591.70,339.61 L592.20,339.61 L592.70,339.61 L593.20,339.61 L593.70,339.61 L594.20,339.61 L594.70,339.61 L595.20,339.62 L595.70,339.62 L596.20,339.62 L596.70,339.62 L597.20,339.62 L597.70,339.62 L598.20,339.62 L598.70,339.62 L599.20,339.62 L599.70,339.62 L600.20,339.62 L600.70,339.62 L601.20,339.62 L601.70,339.62 L602.20,339.62 L602.70,339.62 L603.20,339.62 L603.70,339.62 L604.20,339.62 L604.70,339.62 L605.20,339.63 L605.70,339.63 L606.20,339.63 L606.70,339.63 L607.20,339.63 L607.70,339.63 L608.20,339.63 L608.70,339.63 L609.20,339.63 L609.70,339.63 L610.20,339.63 L610.70,339.63 L611.20,339.63 L611.70,339.63 L612.20,339.63 L612.70,339.63 L613.20,339.63 L613.70,339.63 L614.20,339.63 L614.70,339.63 L615.20,339.64 L615.70,339.64 L616.20,339.64 L616.70,339.64 L617.20,339.64 L617.70,339.64 L618.20,339.64 L618.70,339.64 L619.20,339.64 L619.70,339.64 L620.20,339.64 L620.70,339.64 L621.20,339.64 L621.70,339.64 L622.20,339.64 L622.70,339.64 L623.20,339.64 L623.70,339.64 L624.20,339.64 L624.70,339.65 L625.20,339.65 L625.70,339.65 L626.20,339.65 L626.70,339.65 L627.20,339.65 L627.70,339.65 L628.20,339.65 L628.70,339.65 L629.20,339.65 L629.70,339.65 L630.20,339.65 L630.70,339.65 L631.20,339.65 L631.70,339.65 L632.20,339.65 L632.70,339.65 L633.20,339.65 L633.70,339.65 L634.20,339.66 L634.70,339.66 L635.20,339.66 L635.70,339.66 L636.20,339.66 L636.70,339.66 L637.20,339.66 L637.70,339.66 L638.20,339.66 L638.70,339.66 L639.20,339.66 L639.70,339.66 L640.20,339.66 L640.70,339.66 L641.20,339.66 L641.70,339.66 L642.20,339.66 L642.70,339.66 L643.20,339.66 L643.70,339.66 L644.20,339.67 L644.70,339.67 L645.20,339.67 L645.70,339.67 L646.20,339.67 L646.70,339.67 L647.20,339.67 L647.70,339.67 L648.20,339.67 L648.70,339.67 L649.20,339.67 L649.70,339.67 L650.20,339.67 L650.70,339.67 L651.20,339.67 L651.70,339.67 L652.20,339.67 L652.70,339.67 L653.20,339.67 L653.70,339.67 L654.20,339.68 L654.70,339.68 L655.20,339.68 L655.70,339.68 L656.20,339.68 L656.70,339.68 L657.20,339.68 L657.70,339.68 L658.20,339.68 L658.70,339.68 L659.20,339.68 L659.70,339.68 L660.20,339.68 L660.70,339.68 L661.20,339.68 L661.70,339.68 L662.20,339.68 L662.70,339.68 L663.20,339.68 L663.70,339.68 L664.20,339.68 L664.70,339.69 L665.20,339.69 L665.70,339.69 L666.20,339.69 L666.70,339.69 L667.20,339.69 L667.70,339.69 L668.20,339.69 L668.70,339.69 L669.20,339.69 L669.70,339.69 L670.20,339.69 L670.70,339.69 L671.20,339.69 L671.70,339.69 L672.20,339.69 L672.70,339.69 L673.20,339.69 L673.70,339.69 L674.20,339.69 L674.70,339.69 L675.20,339.70 L675.70,339.70 L676.20,339.70 L676.70,339.70 L677.20,339.70 L677.70,339.70 L678.20,339.70 L678.70,339.70 L679.20,339.70 L679.70,339.70 L680.20,339.70 L680.70,339.70 L681.20,339.70 L681.70,339.70 L682.20,339.70 L682.70,339.70 L683.20,339.70 L683.70,339.70 L684.20,339.70 L684.70,339.70 L685.20,339.70" stroke="#ff0000" stroke-width="2.6" stroke-dasharray="4 2.9"/>
<path d="M226.20,301.99 L226.70,301.95 L227.20,301.92 L227.70,301.89 L228.20,301.85 L228.70,301.82 L229.20,301.79 L229.70,301.76 L230.20,301.74 L230.70,301.71 L231.20,301.68 L231.70,301.66 L232.20,301.64 L232.70,301.61 L233.20,301.59 L233.70,301.57 L234.20,301.55 L234.70,301.53 L235.20,301.52 L235.70,301.50 L236.20,301.49 L236.70,301.47 L237.20,301.46 L237.70,301.45 L238.20,301.44 L238.70,301.43 L239.20,301.42 L239.70,301.41 L240.20,301.41 L240.70,301.40 L241.20,301.40 L241.70,301.40 L242.20,301.40 L242.70,301.40 L243.20,301.41 L243.70,301.42 L244.20,301.42 L244.70,301.44 L245.20,301.45 L245.70,301.47 L246.20,301.48 L246.70,301.50 L247.20,301.52 L247.70,301.54 L248.20,301.57 L248.70,301.59 L249.20,301.61 L249.70,301.64 L250.20,301.66 L250.70,301.69 L251.20,301.71 L251.70,301.74 L252.20,301.76 L252.70,301.79 L253.20,301.81 L253.70,301.83 L254.20,301.85 L254.70,301.88 L255.20,301.90 L255.70,301.91 L256.20,301.93 L256.70,301.95 L257.20,301.96 L257.70,301.97 L258.20,301.98 L258.70,301.99 L259.20,302.00 L259.70,302.00 L260.20,302.00 L260.70,302.00 L261.20,302.00 L261.70,302.00 L262.20,302.00 L262.70,302.00 L263.20,302.00 L263.70,302.00 L264.20,302.00 L264.70,302.00 L265.20,302.00 L265.70,302.00 L266.20,301.99 L266.70,301.99 L267.20,301.99 L267.70,301.99 L268.20,301.99 L268.70,301.99 L269.20,301.99 L269.70,301.99 L270.20,301.99 L270.70,301.99 L271.20,301.98 L271.70,301.98 L272.20,301.98 L272.70,301.98 L273.20,301.98 L273.70,301.98 L274.20,301.98 L274.70,301.98 L275.20,301.97 L275.70,301.97 L276.20,301.97 L276.70,301.97 L277.20,301.97 L277.70,301.97 L278.20,301.97 L278.70,301.97 L279.20,301.96 L279.70,301.96 L280.20,301.96 L280.70,301.96 L281.20,301.96 L281.70,301.96 L282.20,301.96 L282.70,301.96 L283.20,301.96 L283.70,301.96 L284.20,301.95 L284.70,301.95 L285.20,301.95 L285.70,301.95 L286.20,301.95 L286.70,301.95 L287.20,301.95 L287.70,301.95 L288.20,301.95 L288.70,301.95 L289.20,301.95 L289.70,301.95 L290.20,301.95 L290.70,301.96 L291.20,301.97 L291.70,302.00 L292.20,302.02 L292.70,302.06 L293.20,302.10 L293.70,302.15 L294.20,302.20 L294.70,302.26 L295.20,302.32 L295.70,302.39 L296.20,302.46 L296.70,302.53 L297.20,302.61 L297.70,302.69 L298.20,302.77 L298.70,302.85 L299.20,302.93 L299.70,303.02 L300.20,303.10 L300.70,303.19 L301.20,303.27 L301.70,303.35 L302.20,303.44 L302.70,303.52 L303.20,303.60 L303.70,303.68 L304.20,303.77 L304.70,303.86 L305.20,303.96 L305.70,304.05 L306.20,304.15 L306.70,304.25 L307.20,304.36 L307.70,304.47 L308.20,304.58 L308.70,304.69 L309.20,304.81 L309.70,304.93 L310.20,305.05 L310.70,305.17 L311.20,305.30 L311.70,305.43 L312.20,305.56 L312.70,305.69 L313.20,305.83 L313.70,305.97 L314.20,306.11 L314.70,306.25 L315.20,306.40 L315.70,306.55 L316.20,306.71 L316.70,306.87 L317.20,307.04 L317.70,307.22 L318.20,307.41 L318.70,307.60 L319.20,307.81 L319.70,308.02 L320.20,308.24 L320.70,308.47 L321.20,308.70 L321.70,308.95 L322.20,309.22 L322.70,309.51 L323.20,309.81 L323.70,310.13 L324.20,310.47 L324.70,310.81 L325.20,311.17 L325.70,311.53 L326.20,311.89 L326.70,312.26 L327.20,312.63 L327.70,313.00 L328.20,313.38 L328.70,313.77 L329.20,314.18 L329.70,314.59 L330.20,315.01 L330.70,315.44 L331.20,315.86 L331.70,316.29 L332.20,316.72 L332.70,317.14 L333.20,317.55 L333.70,317.96 L334.20,318.36 L334.70,318.75 L335.20,319.13 L335.70,319.50 L336.20,319.87 L336.70,320.24 L337.20,320.61 L337.70,320.98 L338.20,321.36 L338.70,321.74 L339.20,322.13 L339.70,322.52 L340.20,322.92 L340.70,323.34 L341.20,323.80 L341.70,324.28 L342.20,324.78 L342.70,325.28 L343.20,325.77 L343.70,326.25 L344.20,326.70 L344.70,327.13 L345.20,327.52 L345.70,327.87 L346.20,328.18 L346.70,328.45 L347.20,328.69 L347.70,328.92 L348.20,329.14 L348.70,329.34 L349.20,329.53 L349.70,329.72 L350.20,329.88 L350.70,330.04 L351.20,330.19 L351.70,330.32 L352.20,330.45 L352.70,330.56 L353.20,330.66 L353.70,330.76 L354.20,330.86 L354.70,330.95 L355.20,331.03 L355.70,331.12 L356.20,331.19 L356.70,331.26 L357.20,331.33 L357.70,331.38 L358.20,331.43 L358.70,331.47 L359.20,331.50 L359.70,331.52 L360.20,331.55 L360.70,331.57 L361.20,331.59 L361.70,331.61 L362.20,331.63 L362.70,331.65 L363.20,331.67 L363.70,331.69 L364.20,331.70 L364.70,331.72 L365.20,331.73 L365.70,331.75 L366.20,331.76 L366.70,331.77 L367.20,331.78 L367.70,331.78 L368.20,331.79 L368.70,331.79 L369.20,331.80 L369.70,331.80 L370.20,331.80 L370.70,331.80 L371.20,331.80 L371.70,331.80 L372.20,331.80 L372.70,331.80 L373.20,331.80 L373.70,331.80 L374.20,331.80 L374.70,331.80 L375.20,331.80 L375.70,331.80 L376.20,331.80 L376.70,331.80 L377.20,331.80 L377.70,331.80 L378.20,331.80 L378.70,331.80 L379.20,331.80 L379.70,331.80 L380.20,331.80 L380.70,331.80 L381.20,331.79 L381.70,331.78 L382.20,331.77 L382.70,331.76 L383.20,331.74 L383.70,331.73 L384.20,331.71 L384.70,331.69 L385.20,331.67 L385.70,331.64 L386.20,331.62 L386.70,331.59 L387.20,331.57 L387.70,331.54 L388.20,331.51 L388.70,331.48 L389.20,331.45 L389.70,331.42 L390.20,331.39 L390.70,331.35 L391.20,331.31 L391.70,331.27 L392.20,331.22 L392.70,331.17 L393.20,331.11 L393.70,331.04 L394.20,330.97 L394.70,330.90 L395.20,330.81 L395.70,330.72 L396.20,330.61 L396.70,330.46 L397.20,330.28 L397.70,330.06 L398.20,329.83 L398.70,329.57 L399.20,329.30 L399.70,329.03 L400.20,328.76 L400.70,328.50 L401.20,328.23 L401.70,327.95 L402.20,327.66 L402.70,327.36 L403.20,327.05 L403.70,326.73 L404.20,326.40 L404.70,326.07 L405.20,325.73 L405.70,325.39 L406.20,325.04 L406.70,324.69 L407.20,324.33 L407.70,323.96 L408.20,323.58 L408.70,323.19 L409.20,322.79 L409.70,322.37 L410.20,321.94 L410.70,321.49 L411.20,321.01 L411.70,320.52 L412.20,320.00 L412.70,319.46 L413.20,318.90 L413.70,318.32 L414.20,317.71 L414.70,317.06 L415.20,316.38 L415.70,315.64 L416.20,314.84 L416.70,313.98 L417.20,313.02 L417.70,311.93 L418.20,310.72 L418.70,309.39 L419.20,307.97 L419.70,306.46 L420.20,304.88 L420.70,303.27 L421.20,301.64 L421.70,300.04 L422.20,298.43 L422.70,296.81 L423.20,295.15 L423.70,293.44 L424.20,291.65 L424.70,289.75 L425.20,287.72 L425.70,285.52 L426.20,283.11 L426.70,280.44 L427.20,277.52 L427.70,274.36 L428.20,270.97 L428.70,267.36 L429.20,263.57 L429.70,259.63 L430.20,255.58 L430.70,251.47 L431.20,247.20 L431.70,242.72 L432.20,238.04 L432.70,233.19 L433.20,228.18 L433.70,223.03 L434.20,217.80 L434.70,212.51 L435.20,207.20 L435.70,201.83 L436.20,196.33 L436.70,190.73 L437.20,185.04 L437.70,179.30 L438.20,173.55 L438.70,167.82 L439.20,162.15 L439.70,156.59 L440.20,151.10 L440.70,145.52 L441.20,139.91 L441.70,134.31 L442.20,128.80 L442.70,123.43 L443.20,118.30 L443.70,113.48 L444.20,109.04 L444.70,104.98 L445.20,100.91 L445.70,96.87 L446.20,92.95 L446.70,89.23 L447.20,85.81 L447.70,82.80 L448.20,80.30 L448.70,78.40 L449.20,77.16 L449.70,76.13 L450.20,75.41 L450.70,75.22 L451.20,75.89 L451.70,77.36 L452.20,79.39 L452.70,81.78 L453.20,84.31 L453.70,86.79 L454.20,89.43 L454.70,92.39 L455.20,95.63 L455.70,99.15 L456.20,102.91 L456.70,106.91 L457.20,111.12 L457.70,115.52 L458.20,120.10 L458.70,125.14 L459.20,130.84 L459.70,137.04 L460.20,143.57 L460.70,150.29 L461.20,157.07 L461.70,163.79 L462.20,170.36 L462.70,176.68 L463.20,182.86 L463.70,189.09 L464.20,195.31 L464.70,201.46 L465.20,207.50 L465.70,213.39 L466.20,219.10 L466.70,224.60 L467.20,229.87 L467.70,234.90 L468.20,239.76 L468.70,244.45 L469.20,248.98 L469.70,253.35 L470.20,257.58 L470.70,261.67 L471.20,265.62 L471.70,269.44 L472.20,273.14 L472.70,276.76 L473.20,280.28 L473.70,283.68 L474.20,286.92 L474.70,290.00 L475.20,292.91 L475.70,295.63 L476.20,298.17 L476.70,300.52 L477.20,302.72 L477.70,304.78 L478.20,306.72 L478.70,308.55 L479.20,310.28 L479.70,311.92 L480.20,313.48 L480.70,314.96 L481.20,316.38 L481.70,317.75 L482.20,319.07 L482.70,320.33 L483.20,321.51 L483.70,322.62 L484.20,323.65 L484.70,324.58 L485.20,325.44 L485.70,326.20 L486.20,326.89 L486.70,327.53 L487.20,328.12 L487.70,328.67 L488.20,329.18 L488.70,329.66 L489.20,330.11 L489.70,330.53 L490.20,330.92 L490.70,331.30 L491.20,331.65 L491.70,331.99 L492.20,332.31 L492.70,332.60 L493.20,332.88 L493.70,333.14 L494.20,333.39 L494.70,333.61 L495.20,333.83 L495.70,334.03 L496.20,334.22 L496.70,334.40 L497.20,334.57 L497.70,334.73 L498.20,334.87 L498.70,335.01 L499.20,335.13 L499.70,335.24 L500.20,335.34 L500.70,335.44 L501.20,335.52 L501.70,335.60 L502.20,335.68 L502.70,335.75 L503.20,335.82 L503.70,335.89 L504.20,335.95 L504.70,336.02 L505.20,336.09 L505.70,336.16 L506.20,336.23 L506.70,336.30 L507.20,336.38 L507.70,336.46 L508.20,336.54 L508.70,336.61 L509.20,336.69 L509.70,336.77 L510.20,336.84 L510.70,336.91 L511.20,336.98 L511.70,337.05 L512.20,337.11 L512.70,337.16 L513.20,337.21 L513.70,337.26 L514.20,337.30 L514.70,337.34 L515.20,337.37 L515.70,337.40 L516.20,337.42 L516.70,337.44 L517.20,337.45 L517.70,337.47 L518.20,337.49 L518.70,337.51 L519.20,337.52 L519.70,337.54 L520.20,337.55 L520.70,337.57 L521.20,337.58 L521.70,337.60 L522.20,337.61 L522.70,337.62 L523.20,337.63 L523.70,337.65 L524.20,337.66 L524.70,337.67 L525.20,337.68 L525.70,337.69 L526.20,337.70 L526.70,337.71 L527.20,337.72 L527.70,337.73 L528.20,337.73 L528.70,337.74 L529.20,337.75 L529.70,337.76 L530.20,337.77 L530.70,337.77 L531.20,337.78 L531.70,337.79 L532.20,337.80 L532.70,337.80 L533.20,337.81 L533.70,337.82 L534.20,337.82 L534.70,337.83 L535.20,337.84 L535.70,337.84 L536.20,337.85 L536.70,337.86 L537.20,337.86 L537.70,337.87 L538.20,337.88 L538.70,337.88 L539.20,337.89 L539.70,337.90 L540.20,337.90 L540.70,337.91 L541.20,337.92 L541.70,337.92 L542.20,337.93 L542.70,337.93 L543.20,337.94 L543.70,337.95 L544.20,337.95 L544.70,337.96 L545.20,337.96 L545.70,337.97 L546.20,337.97 L546.70,337.98 L547.20,337.98 L547.70,337.99 L548.20,337.99 L548.70,338.00 L549.20,338.00 L549.70,338.01 L550.20,338.01 L550.70,338.02 L551.20,338.02 L551.70,338.02 L552.20,338.03 L552.70,338.03 L553.20,338.04 L553.70,338.04 L554.20,338.05 L554.70,338.05 L555.20,338.06 L555.70,338.06 L556.20,338.06 L556.70,338.07 L557.20,338.07 L557.70,338.08 L558.20,338.08 L558.70,338.09 L559.20,338.09 L559.70,338.10 L560.20,338.10 L560.70,338.11 L561.20,338.11 L561.70,338.12 L562.20,338.12 L562.70,338.13 L563.20,338.13 L563.70,338.14 L564.20,338.14 L564.70,338.14 L565.20,338.15 L565.70,338.15 L566.20,338.16 L566.70,338.16 L567.20,338.17 L567.70,338.17 L568.20,338.18 L568.70,338.18 L569.20,338.19 L569.70,338.19 L570.20,338.20 L570.70,338.20 L571.20,338.21 L571.70,338.21 L572.20,338.21 L572.70,338.22 L573.20,338.22 L573.70,338.23 L574.20,338.23 L574.70,338.24 L575.20,338.24 L575.70,338.25 L576.20,338.25 L576.70,338.25 L577.20,338.26 L577.70,338.26 L578.20,338.27 L578.70,338.27 L579.20,338.28 L579.70,338.28 L580.20,338.29 L580.70,338.29 L581.20,338.29 L581.70,338.30 L582.20,338.30 L582.70,338.31 L583.20,338.31 L583.70,338.32 L584.20,338.32 L584.70,338.32 L585.20,338.33 L585.70,338.33 L586.20,338.34 L586.70,338.34 L587.20,338.35 L587.70,338.35 L588.20,338.35 L588.70,338.36 L589.20,338.36 L589.70,338.37 L590.20,338.37 L590.70,338.37 L591.20,338.38 L591.70,338.38 L592.20,338.39 L592.70,338.39 L593.20,338.39 L593.70,338.40 L594.20,338.40 L594.70,338.41 L595.20,338.41 L595.70,338.42 L596.20,338.42 L596.70,338.42 L597.20,338.43 L597.70,338.43 L598.20,338.44 L598.70,338.44 L599.20,338.44 L599.70,338.45 L600.20,338.45 L600.70,338.45 L601.20,338.46 L601.70,338.46 L602.20,338.47 L602.70,338.47 L603.20,338.47 L603.70,338.48 L604.20,338.48 L604.70,338.49 L605.20,338.49 L605.70,338.49 L606.20,338.50 L606.70,338.50 L607.20,338.51 L607.70,338.51 L608.20,338.51 L608.70,338.52 L609.20,338.52 L609.70,338.52 L610.20,338.53 L610.70,338.53 L611.20,338.54 L611.70,338.54 L612.20,338.54 L612.70,338.55 L613.20,338.55 L613.70,338.55 L614.20,338.56 L614.70,338.56 L615.20,338.57 L615.70,338.57 L616.20,338.57 L616.70,338.58 L617.20,338.58 L617.70,338.58 L618.20,338.59 L618.70,338.59 L619.20,338.59 L619.70,338.60 L620.20,338.60 L620.70,338.61 L621.20,338.61 L621.70,338.61 L622.20,338.62 L622.70,338.62 L623.20,338.62 L623.70,338.63 L624.20,338.63 L624.70,338.63 L625.20,338.64 L625.70,338.64 L626.20,338.64 L626.70,338.65 L627.20,338.65 L627.70,338.65 L628.20,338.66 L628.70,338.66 L629.20,338.66 L629.70,338.67 L630.20,338.67 L630.70,338.67 L631.20,338.68 L631.70,338.68 L632.20,338.68 L632.70,338.69 L633.20,338.69 L633.70,338.70 L634.20,338.70 L634.70,338.70 L635.20,338.71 L635.70,338.71 L636.20,338.71 L636.70,338.71 L637.20,338.72 L637.70,338.72 L638.20,338.72 L638.70,338.73 L639.20,338.73 L639.70,338.73 L640.20,338.74 L640.70,338.74 L641.20,338.74 L641.70,338.75 L642.20,338.75 L642.70,338.75 L643.20,338.76 L643.70,338.76 L644.20,338.76 L644.70,338.77 L645.20,338.77 L645.70,338.77 L646.20,338.78 L646.70,338.78 L647.20,338.78 L647.70,338.79 L648.20,338.79 L648.70,338.79 L649.20,338.79 L649.70,338.80 L650.20,338.80 L650.70,338.80 L651.20,338.81 L651.70,338.81 L652.20,338.81 L652.70,338.82 L653.20,338.82 L653.70,338.82 L654.20,338.83 L654.70,338.83 L655.20,338.83 L655.70,338.83 L656.20,338.84 L656.70,338.84 L657.20,338.84 L657.70,338.85 L658.20,338.85 L658.70,338.85 L659.20,338.85 L659.70,338.86 L660.20,338.86 L660.70,338.86 L661.20,338.87 L661.70,338.87 L662.20,338.87 L662.70,338.87 L663.20,338.88 L663.70,338.88 L664.20,338.88 L664.70,338.89 L665.20,338.89 L665.70,338.89 L666.20,338.89 L666.70,338.90 L667.20,338.90 L667.70,338.90 L668.20,338.91 L668.70,338.91 L669.20,338.91 L669.70,338.91 L670.20,338.92 L670.70,338.92 L671.20,338.92 L671.70,338.93 L672.20,338.93 L672.70,338.93 L673.20,338.93 L673.70,338.94 L674.20,338.94 L674.70,338.94 L675.20,338.94 L675.70,338.95 L676.20,338.95 L676.70,338.95 L677.20,338.95 L677.70,338.96 L678.20,338.96 L678.70,338.96 L679.20,338.97 L679.70,338.97 L680.20,338.97 L680.70,338.97 L681.20,338.98 L681.70,338.98 L682.20,338.98 L682.70,338.98 L683.20,338.99 L683.70,338.99 L684.20,338.99 L684.70,338.99 L685.20,339.00" stroke="#0000ff" stroke-width="2.4"/>
</g>
<g stroke="#000" stroke-width="2.1" fill="none" stroke-linecap="butt">
<rect x="226.2" y="63.0" width="459.10" height="276.70"/>
<path d="M226.20,339.7v-4.3M226.20,63.0v4.3M267.94,339.7v-8.5M267.94,63.0v8.5M309.67,339.7v-4.3M309.67,63.0v4.3M351.41,339.7v-4.3M351.41,63.0v4.3M393.15,339.7v-4.3M393.15,63.0v4.3M434.88,339.7v-8.5M434.88,63.0v8.5M476.62,339.7v-4.3M476.62,63.0v4.3M518.35,339.7v-4.3M518.35,63.0v4.3M560.09,339.7v-4.3M560.09,63.0v4.3M601.83,339.7v-8.5M601.83,63.0v8.5M643.56,339.7v-4.3M643.56,63.0v4.3M685.30,339.7v-4.3M685.30,63.0v4.3M226.2,339.70h13.2M685.3,339.70h-13.2M226.2,328.25h6.6M685.3,328.25h-6.6M226.2,316.80h6.6M685.3,316.80h-6.6M226.2,305.35h6.6M685.3,305.35h-6.6M226.2,293.90h6.6M685.3,293.90h-6.6M226.2,282.45h13.2M685.3,282.45h-13.2M226.2,271.00h6.6M685.3,271.00h-6.6M226.2,259.55h6.6M685.3,259.55h-6.6M226.2,248.10h6.6M685.3,248.10h-6.6M226.2,236.65h6.6M685.3,236.65h-6.6M226.2,225.20h13.2M685.3,225.20h-13.2M226.2,213.75h6.6M685.3,213.75h-6.6M226.2,202.30h6.6M685.3,202.30h-6.6M226.2,190.85h6.6M685.3,190.85h-6.6M226.2,179.40h6.6M685.3,179.40h-6.6M226.2,167.95h13.2M685.3,167.95h-13.2M226.2,156.50h6.6M685.3,156.50h-6.6M226.2,145.05h6.6M685.3,145.05h-6.6M226.2,133.60h6.6M685.3,133.60h-6.6M226.2,122.15h6.6M685.3,122.15h-6.6M226.2,110.70h13.2M685.3,110.70h-13.2M226.2,99.25h6.6M685.3,99.25h-6.6M226.2,87.80h6.6M685.3,87.80h-6.6M226.2,76.35h6.6M685.3,76.35h-6.6M226.2,64.90h6.6M685.3,64.90h-6.6"/>
</g>
<path d="M227.3,338.35H352" stroke="#ff0000" stroke-width="1.0" stroke-dasharray="4 2.9" fill="none" opacity="0.85"/>
<g fill="#000">
<circle cx="228.50" cy="302.14" r="4.05"/>
<circle cx="233.09" cy="301.30" r="4.05"/>
<circle cx="237.68" cy="300.55" r="4.05"/>
<circle cx="242.27" cy="299.70" r="4.05"/>
<circle cx="246.86" cy="302.41" r="4.05"/>
<circle cx="251.45" cy="301.12" r="4.05"/>
<circle cx="256.04" cy="301.93" r="4.05"/>
<circle cx="260.63" cy="301.70" r="4.05"/>
<circle cx="265.22" cy="301.40" r="4.05"/>
<circle cx="269.81" cy="301.69" r="4.05"/>
<circle cx="274.41" cy="301.43" r="4.05"/>
<circle cx="279.00" cy="302.38" r="4.05"/>
<circle cx="283.59" cy="301.94" r="4.05"/>
<circle cx="288.18" cy="301.55" r="4.05"/>
<circle cx="292.77" cy="302.61" r="4.05"/>
<circle cx="297.36" cy="302.30" r="4.05"/>
<circle cx="301.95" cy="303.29" r="4.05"/>
<circle cx="306.54" cy="304.70" r="4.05"/>
<circle cx="311.13" cy="304.76" r="4.05"/>
<circle cx="315.72" cy="306.78" r="4.05"/>
<circle cx="320.32" cy="308.52" r="4.05"/>
<circle cx="324.91" cy="310.43" r="4.05"/>
<circle cx="329.50" cy="314.89" r="4.05"/>
<circle cx="334.09" cy="318.16" r="4.05"/>
<circle cx="338.68" cy="321.39" r="4.05"/>
<circle cx="343.27" cy="326.39" r="4.05"/>
<circle cx="347.86" cy="328.59" r="4.05"/>
<circle cx="352.45" cy="330.49" r="4.05"/>
<circle cx="357.04" cy="331.73" r="4.05"/>
<circle cx="361.63" cy="331.07" r="4.05"/>
<circle cx="366.23" cy="332.06" r="4.05"/>
<circle cx="370.82" cy="331.94" r="4.05"/>
<circle cx="375.41" cy="331.31" r="4.05"/>
<circle cx="380.00" cy="332.31" r="4.05"/>
<circle cx="384.59" cy="331.50" r="4.05"/>
<circle cx="389.18" cy="331.20" r="4.05"/>
<circle cx="393.77" cy="331.03" r="4.05"/>
<circle cx="398.36" cy="329.74" r="4.05"/>
<circle cx="402.95" cy="327.20" r="4.05"/>
<circle cx="407.54" cy="324.07" r="4.05"/>
<circle cx="412.14" cy="320.07" r="4.05"/>
<circle cx="416.73" cy="313.93" r="4.05"/>
<circle cx="421.32" cy="301.26" r="4.05"/>
<circle cx="425.91" cy="284.54" r="4.05"/>
<circle cx="430.50" cy="253.13" r="4.05"/>
<circle cx="435.09" cy="208.36" r="4.05"/>
<circle cx="439.68" cy="156.80" r="4.05"/>
<circle cx="444.27" cy="108.44" r="4.05"/>
<circle cx="448.86" cy="77.93" r="4.05"/>
<circle cx="453.45" cy="85.59" r="4.05"/>
<circle cx="458.05" cy="118.67" r="4.05"/>
<circle cx="462.64" cy="175.90" r="4.05"/>
<circle cx="467.23" cy="230.15" r="4.05"/>
<circle cx="471.82" cy="270.32" r="4.05"/>
<circle cx="476.41" cy="299.17" r="4.05"/>
<circle cx="481.00" cy="315.82" r="4.05"/>
<circle cx="485.59" cy="326.04" r="4.05"/>
<circle cx="490.18" cy="330.91" r="4.05"/>
<circle cx="494.77" cy="333.65" r="4.05"/>
<circle cx="499.36" cy="335.17" r="4.05"/>
<circle cx="503.96" cy="336.19" r="4.05"/>
<circle cx="508.55" cy="336.63" r="4.05"/>
<circle cx="513.14" cy="336.91" r="4.05"/>
<circle cx="517.73" cy="337.62" r="4.05"/>
<circle cx="522.32" cy="337.81" r="4.05"/>
<circle cx="526.91" cy="337.43" r="4.05"/>
<circle cx="531.50" cy="337.77" r="4.05"/>
<circle cx="536.09" cy="338.14" r="4.05"/>
<circle cx="540.68" cy="337.74" r="4.05"/>
<circle cx="545.27" cy="337.78" r="4.05"/>
<circle cx="549.87" cy="338.29" r="4.05"/>
<circle cx="554.46" cy="338.05" r="4.05"/>
<circle cx="559.05" cy="337.81" r="4.05"/>
<circle cx="563.64" cy="338.32" r="4.05"/>
<circle cx="568.23" cy="338.34" r="4.05"/>
<circle cx="572.82" cy="337.93" r="4.05"/>
<circle cx="577.41" cy="338.29" r="4.05"/>
<circle cx="582.00" cy="338.58" r="4.05"/>
<circle cx="586.59" cy="338.14" r="4.05"/>
<circle cx="591.18" cy="338.24" r="4.05"/>
<circle cx="595.78" cy="338.71" r="4.05"/>
<circle cx="600.37" cy="338.40" r="4.05"/>
<circle cx="604.96" cy="338.22" r="4.05"/>
<circle cx="609.55" cy="338.74" r="4.05"/>
<circle cx="614.14" cy="338.68" r="4.05"/>
<circle cx="618.73" cy="338.29" r="4.05"/>
<circle cx="623.32" cy="338.69" r="4.05"/>
<circle cx="627.91" cy="338.91" r="4.05"/>
<circle cx="632.50" cy="338.45" r="4.05"/>
<circle cx="637.09" cy="338.62" r="4.05"/>
<circle cx="641.69" cy="339.05" r="4.05"/>
<circle cx="646.28" cy="338.68" r="4.05"/>
<circle cx="650.87" cy="338.56" r="4.05"/>
<circle cx="655.46" cy="339.08" r="4.05"/>
<circle cx="660.05" cy="338.94" r="4.05"/>
<circle cx="664.64" cy="338.59" r="4.05"/>
<circle cx="669.23" cy="339.03" r="4.05"/>
<circle cx="673.82" cy="339.16" r="4.05"/>
<circle cx="678.41" cy="338.70" r="4.05"/>
<circle cx="683.00" cy="338.93" r="4.05"/>
</g>
<g font-family="Liberation Serif, serif" fill="#000">
<text x="267.3" y="360.6" font-size="20" text-anchor="middle">5400</text>
<text x="434.3" y="360.6" font-size="20" text-anchor="middle">5600</text>
<text x="601.2" y="360.6" font-size="20" text-anchor="middle">5800</text>
<text transform="translate(224.7,64.5) scale(1.02,1.45)" font-size="23">×</text>
<text transform="translate(172.25,62.4) rotate(-90)" font-size="23.85" text-anchor="end">Candidates / ( 5.5 MeV/<tspan font-style="italic">c</tspan><tspan font-size="16.3" dy="-8">2</tspan><tspan dy="8"> )</tspan></text>
<text x="210.70" y="348.50" font-size="20">0</text>
<text x="210.70" y="290.15" font-size="20">5</text>
<text x="200.70" y="232.90" font-size="20">10</text>
<text x="200.70" y="175.65" font-size="20">15</text>
<text x="200.70" y="118.40" font-size="20">20</text>
<text x="237.60" y="60.00" font-size="20">10</text>
<text x="256.81" y="52.00" font-size="14.8">3</text>
<text x="258.85" y="99.30" font-size="22.3">LHCb</text>
<text x="258.71" y="125.30" font-size="22.3">(b)</text>
<text x="497.23" y="387.00" font-size="23.5">m</text>
<text x="514.66" y="387.00" font-size="23.5">(</text>
<text x="525.58" y="387.00" font-size="23.5" font-style="italic" stroke="#000" stroke-width="0.35">Λ</text>
<text x="540.52" y="378.20" font-size="17" stroke="#000" stroke-width="0.3">+</text>
<text x="540.00" y="389.40" font-size="16.5" font-style="italic">c</text>
<text x="552.30" y="387.00" font-size="26" font-style="italic" stroke="#000" stroke-width="0.35">π</text>
<text x="573.12" y="380.70" font-size="17" stroke="#000" stroke-width="0.3">−</text>
<text x="581.69" y="387.00" font-size="23.5">)</text>
<text x="596.25" y="387.00" font-size="23.5">[MeV/</text>
<text x="660.00" y="387.00" font-size="23.5" font-style="italic">c</text>
<text x="670.15" y="379.20" font-size="16.3">2</text>
<text x="679.19" y="387.00" font-size="23.5">]</text>
<text x="551.10" y="93.80" font-size="19.8">Data</text>
<text x="551.10" y="116.90" font-size="19.8">Total</text>
<text x="553.06" y="140.60" font-size="19.5" font-style="italic" stroke="#000" stroke-width="0.3">Λ</text>
<text x="565.02" y="131.80" font-size="12.5" font-style="italic">0</text>
<text x="564.87" y="147.60" font-size="14.5" font-style="italic">b</text>
<text x="568.30" y="140.90" font-size="29">→</text>
<text x="596.06" y="140.60" font-size="19.5" font-style="italic" stroke="#000" stroke-width="0.3">Λ</text>
<text x="607.86" y="133.50" font-size="13.5" stroke="#000" stroke-width="0.3">+</text>
<text x="606.78" y="144.70" font-size="14" font-style="italic">c</text>
<text x="615.90" y="140.60" font-size="22" font-style="italic" stroke="#000" stroke-width="0.3">π</text>
<text x="632.86" y="134.50" font-size="13.5" stroke="#000" stroke-width="0.3">−</text>
<text x="553.06" y="164.20" font-size="19.5" font-style="italic" stroke="#000" stroke-width="0.3">Λ</text>
<text x="565.02" y="155.40" font-size="12.5" font-style="italic">0</text>
<text x="564.87" y="171.20" font-size="14.5" font-style="italic">b</text>
<text x="568.30" y="164.50" font-size="29">→</text>
<text x="596.06" y="164.20" font-size="19.5" font-style="italic" stroke="#000" stroke-width="0.3">Λ</text>
<text x="607.86" y="157.10" font-size="13.5" stroke="#000" stroke-width="0.3">+</text>
<text x="606.78" y="168.30" font-size="14" font-style="italic">c</text>
<text x="616.56" y="164.20" font-size="22" font-style="italic" stroke="#000" stroke-width="0.3">ρ</text>
<text x="632.86" y="158.10" font-size="13.5" stroke="#000" stroke-width="0.3">−</text>
<text x="553.06" y="187.80" font-size="19.5" font-style="italic" stroke="#000" stroke-width="0.3">Λ</text>
<text x="565.02" y="179.00" font-size="12.5" font-style="italic">0</text>
<text x="564.87" y="194.80" font-size="14.5" font-style="italic">b</text>
<text x="568.30" y="188.10" font-size="29">→</text>
<text x="596.06" y="187.80" font-size="19.5" font-style="italic" stroke="#000" stroke-width="0.3">Λ</text>
<text x="607.86" y="180.70" font-size="13.5" stroke="#000" stroke-width="0.3">+</text>
<text x="606.78" y="191.90" font-size="14" font-style="italic">c</text>
<text x="615.79" y="187.80" font-size="19.5" font-style="italic">K</text>
<text x="634.56" y="181.10" font-size="13.5" stroke="#000" stroke-width="0.3">−</text>
<text x="551.11" y="211.20" font-size="19.75">Background</text>
</g>
<g fill="none" stroke-width="2.6">
<path d="M521,112.3H546" stroke="#0000ff"/>
<path d="M520.8,136.3H546" stroke="#ff0000" stroke-dasharray="4.2 2.7"/>
<path d="M520.8,159.8H546" stroke="#990099" stroke-dasharray="6.1 3.5"/>
<path d="M520.8,183.2H546" stroke="#804000" stroke-dasharray="5.8 2.3 1.9 2.3"/>
<path d="M520.8,207.1H546" stroke="#00a000" stroke-dasharray="4.2 2.7"/>
</g>
<circle cx="533.1" cy="88.6" r="3.9" fill="#000"/>
<path d="M533.1,81.7V96.4M530.6,81.9h5M530.6,96.2h5" stroke="#000" stroke-width="1.3" fill="none"/>
</svg>
</body></html>
